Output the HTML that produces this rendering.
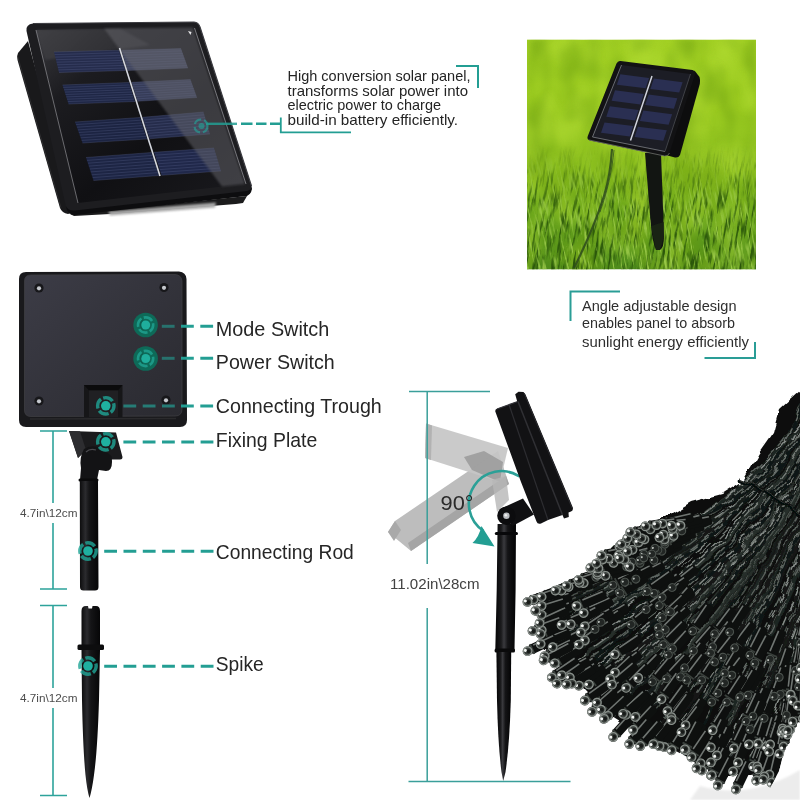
<!DOCTYPE html>
<html>
<head>
<meta charset="utf-8">
<title>Solar string light parts</title>
<style>
html,body{margin:0;padding:0;background:#fff;}
body{width:800px;height:800px;overflow:hidden;font-family:"Liberation Sans",sans-serif;}
svg{display:block;filter:blur(0.4px);}
text{font-family:"Liberation Sans",sans-serif;}
</style>
</head>
<body>
<svg width="800" height="800" viewBox="0 0 800 800">
<defs>
  <linearGradient id="glass" x1="0" y1="0" x2="1" y2="1">
    <stop offset="0" stop-color="#3a3a3e"/>
    <stop offset="0.25" stop-color="#1c1c20"/>
    <stop offset="0.6" stop-color="#101013"/>
    <stop offset="1" stop-color="#1a1a1e"/>
  </linearGradient>
  <filter id="blur1"><feGaussianBlur stdDeviation="0.6"/></filter>
  <filter id="blur2"><feGaussianBlur stdDeviation="1.2"/></filter>
</defs>
<rect width="800" height="800" fill="#ffffff"/>
<g id="panel">
  <!-- left body side -->
  <path d="M28,41 L18,53 Q16.5,56 17.5,60 L60,208 Q62,213 68,214 L74,212 Z" fill="#19191b"/>
  <path d="M17.5,56 L61,208" stroke="#3a3a3c" stroke-width="1" fill="none" opacity="0.6"/>
  <!-- underside / shadow -->
  <path d="M70,214 L247,196 L243,203 L236,204 L110,214 L74,216 Z" fill="#1b1b1c"/>
  <path d="M108,211.5 L216,202.5 L215,207.5 L110,215.5 Z" fill="#a9a9a9" filter="url(#blur2)"/>
  <!-- frame top face -->
  <path d="M33,23.5 L194,22 Q198.5,22.5 200,27 L251.5,186 Q253,191.5 247,193 L75,212.5 Q68,213 66,207 L26.5,31 Q25.5,24.5 33,23.5 Z" fill="#1d1d20"/>
  <path d="M33,23.5 L194,22 Q198.5,22.5 200,27 L251.5,186" stroke="#3b3b40" stroke-width="1.2" fill="none"/>
  <!-- frame front edge -->
  <path d="M66,206 Q68,211 75,210.5 L247,191 Q252,190 251.5,186 Q253,193 247,196 L75,215 Q67,215 66,206 Z" fill="#0d0d0f"/>
  <!-- glass -->
  <path d="M36,30 L193,27.5 L245,184 L78,203 Z" fill="url(#glass)"/>
  <!-- reflection top-right -->
  <path d="M36,30 L120,28.5 L150,45 L45,60 Z" fill="#48484e" opacity="0.45" filter="url(#blur2)"/>
  <!-- glass edge highlight -->
  <path d="M36,30 L78,203" stroke="#9a9aa0" stroke-width="0.9" fill="none" opacity="0.7"/>
  <path d="M194.5,28 L246,184" stroke="#b0b0b6" stroke-width="0.9" fill="none" opacity="0.7"/>
  <!-- cells -->
  <g id="cells">
    <path d="M54,52 L119,50.2 L125.5,70.5 L59,72.5 Z" fill="#252c4c"/>
    <path d="M121.5,50.2 L181,48.5 L188,68 L127.5,70.5 Z" fill="#41465e"/>
    <path d="M62.5,85 L129,82.5 L135,101.5 L68.5,104 Z" fill="#1f2746"/>
    <path d="M131.5,82.3 L190.5,79.5 L197,97.5 L137.5,101.3 Z" fill="#363c58"/>
    <path d="M75,122 L140,117.5 L147,139 L82.5,143 Z" fill="#1c2442"/>
    <path d="M142.5,117.3 L203.5,112 L210,134 L149.5,138.8 Z" fill="#252c4b"/>
    <path d="M86,157.5 L151.5,152.5 L159,175.5 L93.5,180.5 Z" fill="#1d2544"/>
    <path d="M154,152.3 L214,148 L221,171 L161.5,175.3 Z" fill="#20284a"/>
  </g>
  <g id="celllines" stroke="#6b76a3" stroke-width="0.6" opacity="0.4" fill="none"><path d="M54.0,52.0 L119.0,50.2"/><path d="M54.6,54.6 L119.8,52.7"/><path d="M55.2,57.1 L120.6,55.3"/><path d="M55.9,59.7 L121.4,57.8"/><path d="M56.5,62.2 L122.2,60.4"/><path d="M57.1,64.8 L123.1,62.9"/><path d="M57.8,67.4 L123.9,65.4"/><path d="M58.4,69.9 L124.7,68.0"/><path d="M59.0,72.5 L125.5,70.5"/><path d="M121.5,50.2 L181.0,48.5"/><path d="M122.2,52.7 L181.9,50.9"/><path d="M123.0,55.3 L182.8,53.4"/><path d="M123.8,57.8 L183.6,55.8"/><path d="M124.5,60.4 L184.5,58.2"/><path d="M125.2,62.9 L185.4,60.7"/><path d="M126.0,65.4 L186.2,63.1"/><path d="M126.8,68.0 L187.1,65.6"/><path d="M127.5,70.5 L188.0,68.0"/><path d="M62.5,85.0 L129.0,82.5"/><path d="M63.2,87.4 L129.8,84.9"/><path d="M64.0,89.8 L130.5,87.2"/><path d="M64.8,92.1 L131.2,89.6"/><path d="M65.5,94.5 L132.0,92.0"/><path d="M66.2,96.9 L132.8,94.4"/><path d="M67.0,99.2 L133.5,96.8"/><path d="M67.8,101.6 L134.2,99.1"/><path d="M68.5,104.0 L135.0,101.5"/><path d="M131.5,82.3 L190.5,79.5"/><path d="M132.2,84.7 L191.3,81.8"/><path d="M133.0,87.0 L192.1,84.0"/><path d="M133.8,89.4 L192.9,86.2"/><path d="M134.5,91.8 L193.8,88.5"/><path d="M135.2,94.2 L194.6,90.8"/><path d="M136.0,96.5 L195.4,93.0"/><path d="M136.8,98.9 L196.2,95.2"/><path d="M137.5,101.3 L197.0,97.5"/><path d="M75.0,122.0 L140.0,117.5"/><path d="M75.9,124.6 L140.9,120.2"/><path d="M76.9,127.2 L141.8,122.9"/><path d="M77.8,129.9 L142.6,125.6"/><path d="M78.8,132.5 L143.5,128.2"/><path d="M79.7,135.1 L144.4,130.9"/><path d="M80.6,137.8 L145.2,133.6"/><path d="M81.6,140.4 L146.1,136.3"/><path d="M82.5,143.0 L147.0,139.0"/><path d="M142.5,117.3 L203.5,112.0"/><path d="M143.4,120.0 L204.3,114.8"/><path d="M144.2,122.7 L205.1,117.5"/><path d="M145.1,125.4 L205.9,120.2"/><path d="M146.0,128.1 L206.8,123.0"/><path d="M146.9,130.7 L207.6,125.8"/><path d="M147.8,133.4 L208.4,128.5"/><path d="M148.6,136.1 L209.2,131.2"/><path d="M149.5,138.8 L210.0,134.0"/><path d="M86.0,157.5 L151.5,152.5"/><path d="M86.9,160.4 L152.4,155.4"/><path d="M87.9,163.2 L153.4,158.2"/><path d="M88.8,166.1 L154.3,161.1"/><path d="M89.8,169.0 L155.2,164.0"/><path d="M90.7,171.9 L156.2,166.9"/><path d="M91.6,174.8 L157.1,169.8"/><path d="M92.6,177.6 L158.1,172.6"/><path d="M93.5,180.5 L159.0,175.5"/><path d="M154.0,152.3 L214.0,148.0"/><path d="M154.9,155.2 L214.9,150.9"/><path d="M155.9,158.1 L215.8,153.8"/><path d="M156.8,160.9 L216.6,156.6"/><path d="M157.8,163.8 L217.5,159.5"/><path d="M158.7,166.7 L218.4,162.4"/><path d="M159.6,169.6 L219.2,165.2"/><path d="M160.6,172.4 L220.1,168.1"/><path d="M161.5,175.3 L221.0,171.0"/></g>
  <path d="M104,28.5 L193,27.5 L245,184 L222,186.5 Z" fill="#66666c" opacity="0.5" filter="url(#blur2)"/>
  <!-- center bus bar -->
  <path d="M119.5,48 L160,176" stroke="#c6c9d2" stroke-width="1.6" fill="none"/>
  <path d="M119.5,48 L160,176" stroke="#ffffff" stroke-width="0.6" fill="none" opacity="0.5"/>
  <!-- tiny corner glint -->
  <path d="M188,31 L191.5,32 L190.5,35 Z" fill="#e8e8ea"/>
</g>
<g id="grass">
  <defs>
    <clipPath id="gclip"><rect x="527" y="39.5" width="229" height="230"/></clipPath>
    <linearGradient id="gbase" x1="0" y1="0" x2="0" y2="1">
      <stop offset="0" stop-color="#a2d024"/>
      <stop offset="0.3" stop-color="#9aca20"/>
      <stop offset="0.58" stop-color="#8bbf20"/>
      <stop offset="0.78" stop-color="#68a41e"/>
      <stop offset="1" stop-color="#4d8a1c"/>
    </linearGradient>
    <filter id="gsoft" color-interpolation-filters="sRGB" x="0" y="0" width="1" height="1" filterUnits="objectBoundingBox">
      <feTurbulence type="fractalNoise" baseFrequency="0.035 0.02" numOctaves="2" seed="7" result="n"/>
      <feColorMatrix in="n" type="matrix" values="0 0 0 0 0.72  0 0 0 0 0.88  0 0 0 0 0.22  1.8 0 0 0 -0.7"/>
      <feGaussianBlur stdDeviation="2"/>
    </filter>
    <filter id="gdark" color-interpolation-filters="sRGB" x="0" y="0" width="1" height="1" filterUnits="objectBoundingBox">
      <feTurbulence type="fractalNoise" baseFrequency="0.04 0.025" numOctaves="2" seed="21" result="n"/>
      <feColorMatrix in="n" type="matrix" values="0 0 0 0 0.42  0 0 0 0 0.62  0 0 0 0 0.06  0 1.8 0 0 -0.7"/>
      <feGaussianBlur stdDeviation="2"/>
    </filter>
    <filter id="gblade" color-interpolation-filters="sRGB" x="0" y="0" width="1" height="1" filterUnits="objectBoundingBox">
      <feTurbulence type="fractalNoise" baseFrequency="0.5 0.05" numOctaves="2" seed="3" result="n"/>
      <feColorMatrix in="n" type="matrix" values="0 0 0 0 0.62  0 0 0 0 0.80  0 0 0 0 0.30  4.5 0 0 0 -2.3"/>
    </filter>
    <filter id="gblade2" color-interpolation-filters="sRGB" x="0" y="0" width="1" height="1" filterUnits="objectBoundingBox">
      <feTurbulence type="fractalNoise" baseFrequency="0.4 0.045" numOctaves="2" seed="11" result="n"/>
      <feColorMatrix in="n" type="matrix" values="0 0 0 0 0.16  0 0 0 0 0.33  0 0 0 0 0.04  0 4.2 0 0 -2.0"/>
    </filter>
    <linearGradient id="gfade" x1="0" y1="0" x2="0" y2="1">
      <stop offset="0" stop-color="#fff" stop-opacity="0"/>
      <stop offset="0.46" stop-color="#fff" stop-opacity="0"/>
      <stop offset="0.7" stop-color="#fff" stop-opacity="0.8"/>
      <stop offset="1" stop-color="#fff" stop-opacity="1"/>
    </linearGradient>
    <mask id="gmask"><rect x="527" y="39.5" width="229" height="230" fill="url(#gfade)"/></mask>
  </defs>
  <g clip-path="url(#gclip)">
    <rect x="527" y="39.5" width="229" height="230" fill="url(#gbase)"/>
    <rect x="527" y="39.5" width="229" height="230" filter="url(#gsoft)" opacity="0.8"/>
    <rect x="527" y="39.5" width="229" height="230" filter="url(#gdark)" opacity="0.75"/>
    <g mask="url(#gmask)">
      <g transform="rotate(8 640 200)"><rect x="500" y="20" width="300" height="290" filter="url(#gblade2)"/></g>
      <g transform="rotate(-10 640 200)"><rect x="500" y="20" width="300" height="290" filter="url(#gblade)" opacity="0.9"/></g>
    </g>
    <!-- wire -->
    <path d="M612,149 C611,165 609,180 604,196 C598,215 588,240 574,268" stroke="#2d4a1c" stroke-width="2.2" fill="none" opacity="0.85"/>
    <path d="M614,150 C612,170 608,190 600,212" stroke="#36561f" stroke-width="1" fill="none" opacity="0.8"/>
    <!-- stake -->
    <path d="M645,153 L661,153 L664,236 Q664,248 660,250 L656,250 Q652,240 651,226 Z" fill="#121512"/>
    <path d="M651,226 L656,250 L660,250 L664,236 L664,222 Z" fill="#1d2a14" opacity="0.7" filter="url(#blur1)"/>
    <!-- panel body side -->
    <path d="M694.5,70.5 L699.5,77 Q700.5,80 699.8,84 L680,155 Q678.5,158 675,157.5 L667.5,155.5 Z" fill="#0d0d0e"/>
    <!-- panel frame -->
    <path d="M620.5,61 L692.5,70 Q696,71 695,74.5 L669.5,153 Q668,156.5 664.5,156 L590,140.5 Q586.5,139.5 587.8,136 L616.5,63.5 Q618,60.5 620.5,61 Z" fill="#121214"/>
    <path d="M589,140 L664.5,156 Q668,156.5 669.5,153" stroke="#6d6f6a" stroke-width="1" fill="none" opacity="0.8"/>
    <!-- glass -->
    <path d="M621.5,65 L690.5,74 L665,151.5 L592.5,137 Z" fill="#1c1d25"/>
    <path d="M621.5,65 L592.5,137 L665,151.5" stroke="#90939a" stroke-width="0.9" fill="none" opacity="0.75"/>
    <path d="M690.5,74 L665,151.5" stroke="#4a4c52" stroke-width="0.8" fill="none"/>
    <!-- cells -->
    <g fill="#2a2f52">
      <path d="M620.3,74.2 L649.1,77.9 L645.6,88.3 L616.9,84.7 Z"/>
      <path d="M653.8,78.5 L682.6,82.2 L679.2,92.6 L650.4,88.9 Z"/>
      <path d="M615.0,90.3 L643.8,93.9 L640.4,104.4 L611.6,100.7 Z"/>
      <path d="M648.6,94.5 L677.3,98.2 L673.9,108.7 L645.1,105.0 Z"/>
      <path d="M609.8,106.3 L638.5,110.0 L635.1,120.4 L606.3,116.8 Z"/>
      <path d="M643.3,110.6 L672.1,114.3 L668.6,124.7 L639.9,121.1 Z"/>
      <path d="M604.5,122.4 L633.2,126.0 L629.8,136.5 L601.0,132.8 Z"/>
      <path d="M638.0,126.7 L666.8,130.3 L663.3,140.8 L634.6,137.1 Z"/>
    </g>
    <path d="M652,76 L630.5,140.5" stroke="#d0d3dc" stroke-width="1.5" fill="none"/>
  </g>
</g>
<g id="back">
  <defs>
    <linearGradient id="rodg" x1="0" y1="0" x2="1" y2="0">
      <stop offset="0" stop-color="#0c0c0d"/>
      <stop offset="0.3" stop-color="#2b2b2e"/>
      <stop offset="0.5" stop-color="#151517"/>
      <stop offset="1" stop-color="#060607"/>
    </linearGradient>
    <linearGradient id="plateg" x1="0" y1="0" x2="1" y2="1">
      <stop offset="0" stop-color="#3c3c46"/>
      <stop offset="0.5" stop-color="#33333b"/>
      <stop offset="1" stop-color="#2a2a30"/>
    </linearGradient>
  </defs>
  <!-- outer rim -->
  <path d="M26,272 L179,271.5 Q186,272 186.5,279 L187,420 Q187,427 180,427 L26,427 Q19,427 19,420 L19,279 Q19,272 26,272 Z" fill="#19191c"/>
  <!-- raised plate -->
  <path d="M31,275 L175,274.5 Q181.5,275 182,281 L182,409 Q182,416 175,416 L31,416.5 Q24.5,416.5 24.5,410 L24.5,281 Q24.5,275 31,275 Z" fill="url(#plateg)"/>
  <path d="M31,275 L175,274.5 Q181.5,275 182,281 L182,409 Q182,416 175,416 L31,416.5 Q24.5,416.5 24.5,410 L24.5,281 Q24.5,275 31,275 Z" fill="none" stroke="#3d3d41" stroke-width="0.8"/>
  <!-- lower lip highlight -->
  <path d="M30,419 L176,418.5" stroke="#2a2a2c" stroke-width="1.5"/>
  <!-- screws -->
  <g>
    <circle cx="39" cy="288" r="4.6" fill="#17171a"/><circle cx="39" cy="288.3" r="2.1" fill="#c4c7cc"/>
    <circle cx="164" cy="287.5" r="4.6" fill="#17171a"/><circle cx="164" cy="287.8" r="2.1" fill="#c4c7cc"/>
    <circle cx="39" cy="401" r="4.6" fill="#17171a"/><circle cx="39" cy="401.3" r="2.1" fill="#c4c7cc"/>
    <circle cx="166" cy="400" r="4.6" fill="#17171a"/><circle cx="166" cy="400.3" r="2.1" fill="#c4c7cc"/>
  </g>
  <!-- trough -->
  <path d="M84,385 L122.5,385 L122.5,417 L84,417 Z" fill="#161618"/>
  <path d="M84,385 L122.5,385 L118,390.5 L89,390.5 Z" fill="#0b0b0c"/>
  <path d="M89,390.5 L118,390.5 L118,417 L89,417 Z" fill="#202023"/>
  <!-- switches -->
  <circle cx="145.6" cy="325" r="12.3" fill="#0e6a58"/>
  <circle cx="145.6" cy="358.5" r="12.3" fill="#0e6a58"/>
  <!-- fixing plate -->
  <path d="M69,431 L116,432.5 L122.5,457 Q122.5,459.5 120,459.5 L108,459.5 L100,451 L86,450 L78,458 Z" fill="#1b1b1d"/>
  <path d="M69,431 L80,431.3 L86,450 L78,458 Z" fill="#2d2d30"/>
  <!-- joint -->
  <path d="M84,449 Q90,445 98,447 L105,452 Q113,454 112,462 Q112,471 106,471 L99,470 L97,480 L80,480 L81,468 Q79,458 84,449 Z" fill="#131315"/>
  <path d="M86,452 Q90,448 96,450" stroke="#4a4a4e" stroke-width="1.2" fill="none"/>
  <rect x="78.5" y="478.5" width="20" height="3" rx="1.5" fill="#0a0a0b"/>
  <!-- rod -->
  <path d="M79.8,481 L98,481 L98.5,587 Q98.5,590.5 95,590.5 L83.5,590.5 Q80,590.5 80,587 Z" fill="url(#rodg)"/>
  <!-- spike -->
  <path d="M81.5,611 Q81.5,606 86,606 L88,606 L88.5,608.5 L92,608.5 L92.5,606 L96,606 Q100,606 100,611 L100,645 L81.5,645 Z" fill="url(#rodg)"/>
  <rect x="77.5" y="644.5" width="26.5" height="5.5" rx="1.5" fill="#0d0d0e"/>
  <path d="M81.5,650 L100,650 L99,700 Q97.5,750 94,775 Q92,790 89.5,798 Q87,790 85.5,775 Q83,750 82,700 Z" fill="url(#rodg)"/>
</g>
<g id="tilt">
  <defs>
    <linearGradient id="poleg" x1="0" y1="0" x2="1" y2="0">
      <stop offset="0" stop-color="#050506"/>
      <stop offset="0.28" stop-color="#1a1a1c"/>
      <stop offset="0.42" stop-color="#3a3a3e"/>
      <stop offset="0.6" stop-color="#141416"/>
      <stop offset="1" stop-color="#030304"/>
    </linearGradient>
    <linearGradient id="gh1" x1="0" y1="0" x2="1" y2="0">
      <stop offset="0" stop-color="#c9c9c9"/>
      <stop offset="1" stop-color="#b4b4b4"/>
    </linearGradient>
  </defs>
  <!-- ghost 2 (lower, steeper) -->
  <g filter="url(#blur1)">
    <path d="M388,532 L395,521 L498,451 L509,484 L411,551 Z" fill="#bdbdbd"/>
    <path d="M388,532 L395,521 L401,530 L394,541 Z" fill="#a9a9a9"/>
    <path d="M411,551 L509,484 L506,476 L408,543 Z" fill="#a5a5a5"/>
    <!-- ghost 1 (upper) -->
    <path d="M426,423.5 L508,448 L500,482 L425,458 Z" fill="#c6c6c6" opacity="0.92"/>
    <path d="M426,423.5 L432,425.5 L431,460 L425,458 Z" fill="#b2b2b2"/>
    <path d="M464,457 L484,451 L503,462 L500,482 L472,470 Z" fill="#9c9c9c" opacity="0.9"/>
    <path d="M492,480 L506,476 L509,500 L497,512 Z" fill="#b6b6b6" opacity="0.8"/>
  </g>
  <!-- arc arrow -->
  <path d="M519.5,476.5 A31,31 0 0 0 483.5,531" stroke="#2ba097" stroke-width="2.6" fill="none"/>
  <path d="M481.5,526 L494.5,546.5 L472.5,543 Q479,537 481.5,526 Z" fill="#239e93"/>
  <!-- pole -->
  <path d="M497.6,524 L516,524 L515.6,590 L514.5,650 L495.3,650 L496.7,590 Z" fill="url(#poleg)"/>
  <rect x="494.8" y="532" width="23.2" height="3" rx="1.5" fill="#08080a"/>
  <rect x="494.6" y="648.5" width="20.4" height="4" rx="1.5" fill="#0a0a0b"/>
  <path d="M496.4,652 L511.2,652 L510.8,700 Q509.5,745 505.5,772 L503.2,781 L501.5,772 Q498,745 497,700 Z" fill="url(#poleg)"/>
  <!-- arm + joint -->
  <path d="M500,509 L523,498.5 L534,514.5 L512.5,526 Z" fill="#101012"/>
  <circle cx="506.4" cy="515.8" r="9.2" fill="#0c0c0e"/>
  <circle cx="506.4" cy="515.8" r="3.2" fill="#b9bcc0"/>
  <circle cx="505.8" cy="515.2" r="1.3" fill="#eeeeee"/>
  <!-- tilted panel -->
  <path d="M515.2,394.2 L518.5,391.8 L523.5,392 L525.5,394.5 L572.8,507.5 Q573.5,510.5 571,511.5 L568.5,512.5 L568.8,517 L564,518.5 L562.5,515 L548,520 L541,523.5 Q537.5,524.5 536.5,521.5 L521,482 L495.3,411.5 Q495,409.5 497,408.8 L517.2,401.5 Z" fill="#121214"/>
  <path d="M509,404.5 L548,520" stroke="#2d2d31" stroke-width="1.2" fill="none"/>
  <path d="M518,401.5 L562.5,515" stroke="#303034" stroke-width="1.5" fill="none"/>
  <path d="M497,409 L517,401.8" stroke="#35353a" stroke-width="1.2" fill="none"/>
  <path d="M524,393 L572,508" stroke="#2a2a2e" stroke-width="1" fill="none"/>
</g>
<g id="leds">
<defs>
<clipPath id="lclip"><polygon points="796,383 774,403 768,425 754,445 738,473 716,487 686,495 656,513 636,520 621,528 606,543 586,560 571,575 556,585 536,591 522,598 518,608 523,620 521,661 533,672 549,688 569,710 591,733 619,749 657,768 692,786 709,797 744,799 768,792 779,771 786,747 799,734 810,725 810,384"/></clipPath>
<filter id="wav" x="-5%" y="-5%" width="110%" height="110%"><feTurbulence type="fractalNoise" baseFrequency="0.045" numOctaves="2" seed="4" result="t"/><feDisplacementMap in="SourceGraphic" in2="t" scale="9" xChannelSelector="R" yChannelSelector="G"/></filter>
<g id="lb"><rect x="0" y="-5" width="29" height="10" rx="2.5" fill="#0e100f"/><rect x="5" y="-4" width="22" height="1.6" fill="#9aa19c" opacity=".7"/><rect x="1.5" y="-5.4" width="1.8" height="10.8" fill="#3a403c"/></g>
<g id="lc"><ellipse cx="-2.6" cy="0" rx="5" ry="4.9" fill="#3a3f3c"/><ellipse cx="-2.6" cy="0" rx="4.3" ry="4.2" fill="none" stroke="#8a918c" stroke-width="1.2"/><circle cx="-1.8" cy=".6" r="1.9" fill="#171a18"/><circle cx="-4.4" cy="-1.6" r="1.5" fill="#f4f6f4"/></g>
<g id="lc2"><ellipse cx="-2.4" cy="0" rx="4.6" ry="4.5" fill="#222624"/><ellipse cx="-2.4" cy="0" rx="3.9" ry="3.8" fill="none" stroke="#505752" stroke-width="1"/><circle cx="-4" cy="-1.4" r="1.05" fill="#b9beb9"/></g>
</defs>
<path d="M700,786 Q750,800 800,770 L800,800 L690,800 Z" fill="#ececec" filter="url(#blur2)"/>
<g clip-path="url(#lclip)">
<g filter="url(#wav)">
<polygon points="801,390 779,410 773,432 759,452 743,480 721,494 691,502 661,520 641,527 626,535 611,550 591,567 576,582 539,595 544,607 540,646 551,656 567,672 585,692 606,714 632,730 668,747 701,764 717,775 750,775 773,768 784,747 791,723 800,722" fill="#0d110f"/>
<path d="M830,404 C791,478 736,536 674,586" stroke="#1f2522" stroke-width="2.8" fill="none"/>
<path d="M830,404 C791,478 736,536 674,586" transform="translate(-.8,-.9)" stroke="#8d948f" stroke-width="1.4" stroke-dasharray="14 4" fill="none" opacity=".8"/>
<path d="M843,417 C812,492 775,563 731,630" stroke="#111513" stroke-width="2.9" fill="none"/>
<path d="M843,417 C812,492 775,563 731,630" transform="translate(-.8,-.9)" stroke="#565e59" stroke-width="1.4" stroke-dasharray="15 6" fill="none" opacity=".8"/>
<path d="M867,425 C845,488 825,552 809,617" stroke="#181d1a" stroke-width="3.6" fill="none"/>
<path d="M867,425 C845,488 825,552 809,617" transform="translate(-.8,-.9)" stroke="#8d948f" stroke-width="1.4" stroke-dasharray="8 4" fill="none" opacity=".8"/>
<path d="M868,427 C840,474 827,524 819,576" stroke="#181d1a" stroke-width="3.2" fill="none"/>
<path d="M868,427 C840,474 827,524 819,576" transform="translate(-.8,-.9)" stroke="#565e59" stroke-width="1.4" stroke-dasharray="9 8" fill="none" opacity=".8"/>
<path d="M822,401 C779,465 726,514 664,550" stroke="#1f2522" stroke-width="3.9" fill="none"/>
<path d="M822,401 C779,465 726,514 664,550" transform="translate(-.8,-.9)" stroke="#8d948f" stroke-width="1.4" stroke-dasharray="10 9" fill="none" opacity=".8"/>
<path d="M857,424 C832,503 804,581 771,657" stroke="#0a0d0b" stroke-width="3.0" fill="none"/>
<path d="M857,424 C832,503 804,581 771,657" transform="translate(-.8,-.9)" stroke="#a4aaa6" stroke-width="1.4" stroke-dasharray="15 4" fill="none" opacity=".8"/>
<path d="M841,415 C808,493 767,565 716,632" stroke="#262d29" stroke-width="3.9" fill="none"/>
<path d="M841,415 C808,493 767,565 716,632" transform="translate(-.8,-.9)" stroke="#7b837e" stroke-width="1.4" stroke-dasharray="10 7" fill="none" opacity=".8"/>
<path d="M863,428 C846,494 826,560 808,627" stroke="#111513" stroke-width="3.9" fill="none"/>
<path d="M863,428 C846,494 826,560 808,627" transform="translate(-.8,-.9)" stroke="#6b736e" stroke-width="1.4" stroke-dasharray="13 6" fill="none" opacity=".8"/>
<path d="M862,422 C836,483 822,546 810,610" stroke="#181d1a" stroke-width="4.0" fill="none"/>
<path d="M862,422 C836,483 822,546 810,610" transform="translate(-.8,-.9)" stroke="#a4aaa6" stroke-width="1.4" stroke-dasharray="15 8" fill="none" opacity=".8"/>
<path d="M825,397 C780,465 723,518 656,559" stroke="#111513" stroke-width="3.2" fill="none"/>
<path d="M825,397 C780,465 723,518 656,559" transform="translate(-.8,-.9)" stroke="#565e59" stroke-width="1.4" stroke-dasharray="11 5" fill="none" opacity=".8"/>
<path d="M828,400 C779,475 720,538 649,590" stroke="#181d1a" stroke-width="2.9" fill="none"/>
<path d="M828,400 C779,475 720,538 649,590" transform="translate(-.8,-.9)" stroke="#8d948f" stroke-width="1.4" stroke-dasharray="10 8" fill="none" opacity=".8"/>
<path d="M852,422 C830,505 797,584 756,661" stroke="#151917" stroke-width="3.6" fill="none"/>
<path d="M852,422 C830,505 797,584 756,661" transform="translate(-.8,-.9)" stroke="#a4aaa6" stroke-width="1.4" stroke-dasharray="11 7" fill="none" opacity=".8"/>
<path d="M841,411 C812,497 768,573 714,645" stroke="#0a0d0b" stroke-width="3.5" fill="none"/>
<path d="M841,411 C812,497 768,573 714,645" transform="translate(-.8,-.9)" stroke="#8d948f" stroke-width="1.4" stroke-dasharray="16 8" fill="none" opacity=".8"/>
<path d="M833,408 C785,484 730,554 664,616" stroke="#111513" stroke-width="3.6" fill="none"/>
<path d="M833,408 C785,484 730,554 664,616" transform="translate(-.8,-.9)" stroke="#a4aaa6" stroke-width="1.4" stroke-dasharray="9 7" fill="none" opacity=".8"/>
<path d="M844,411 C808,495 765,575 712,651" stroke="#1f2522" stroke-width="4.0" fill="none"/>
<path d="M844,411 C808,495 765,575 712,651" transform="translate(-.8,-.9)" stroke="#565e59" stroke-width="1.4" stroke-dasharray="15 4" fill="none" opacity=".8"/>
<path d="M818,395 C778,462 725,513 660,549" stroke="#0a0d0b" stroke-width="2.8" fill="none"/>
<path d="M818,395 C778,462 725,513 660,549" transform="translate(-.8,-.9)" stroke="#7b837e" stroke-width="1.4" stroke-dasharray="10 5" fill="none" opacity=".8"/>
<path d="M855,422 C836,508 809,591 780,675" stroke="#151917" stroke-width="2.9" fill="none"/>
<path d="M855,422 C836,508 809,591 780,675" transform="translate(-.8,-.9)" stroke="#a4aaa6" stroke-width="1.4" stroke-dasharray="16 5" fill="none" opacity=".8"/>
<path d="M844,414 C804,499 756,578 695,649" stroke="#111513" stroke-width="3.1" fill="none"/>
<path d="M844,414 C804,499 756,578 695,649" transform="translate(-.8,-.9)" stroke="#7b837e" stroke-width="1.4" stroke-dasharray="8 8" fill="none" opacity=".8"/>
<path d="M832,409 C781,486 720,553 648,608" stroke="#111513" stroke-width="4.0" fill="none"/>
<path d="M832,409 C781,486 720,553 648,608" transform="translate(-.8,-.9)" stroke="#6b736e" stroke-width="1.4" stroke-dasharray="13 9" fill="none" opacity=".8"/>
<path d="M834,409 C790,492 735,565 667,628" stroke="#151917" stroke-width="3.3" fill="none"/>
<path d="M834,409 C790,492 735,565 667,628" transform="translate(-.8,-.9)" stroke="#565e59" stroke-width="1.4" stroke-dasharray="8 4" fill="none" opacity=".8"/>
<path d="M828,406 C781,485 715,538 638,578" stroke="#262d29" stroke-width="3.9" fill="none"/>
<path d="M828,406 C781,485 715,538 638,578" transform="translate(-.8,-.9)" stroke="#a4aaa6" stroke-width="1.4" stroke-dasharray="13 8" fill="none" opacity=".8"/>
<path d="M852,419 C819,506 778,590 733,673" stroke="#151917" stroke-width="3.1" fill="none"/>
<path d="M852,419 C819,506 778,590 733,673" transform="translate(-.8,-.9)" stroke="#7b837e" stroke-width="1.4" stroke-dasharray="14 7" fill="none" opacity=".8"/>
<path d="M840,413 C792,497 738,575 673,646" stroke="#151917" stroke-width="3.7" fill="none"/>
<path d="M840,413 C792,497 738,575 673,646" transform="translate(-.8,-.9)" stroke="#8d948f" stroke-width="1.4" stroke-dasharray="9 6" fill="none" opacity=".8"/>
<path d="M849,420 C818,509 774,590 726,671" stroke="#262d29" stroke-width="3.3" fill="none"/>
<path d="M849,420 C818,509 774,590 726,671" transform="translate(-.8,-.9)" stroke="#a4aaa6" stroke-width="1.4" stroke-dasharray="14 8" fill="none" opacity=".8"/>
<path d="M836,409 C790,494 736,572 674,647" stroke="#111513" stroke-width="3.1" fill="none"/>
<path d="M836,409 C790,494 736,572 674,647" transform="translate(-.8,-.9)" stroke="#7b837e" stroke-width="1.4" stroke-dasharray="10 7" fill="none" opacity=".8"/>
<path d="M866,429 C840,493 822,559 809,628" stroke="#1f2522" stroke-width="3.1" fill="none"/>
<path d="M866,429 C840,493 822,559 809,628" transform="translate(-.8,-.9)" stroke="#8d948f" stroke-width="1.4" stroke-dasharray="13 8" fill="none" opacity=".8"/>
<path d="M872,429 C846,488 825,547 815,611" stroke="#151917" stroke-width="3.3" fill="none"/>
<path d="M872,429 C846,488 825,547 815,611" transform="translate(-.8,-.9)" stroke="#8d948f" stroke-width="1.4" stroke-dasharray="11 7" fill="none" opacity=".8"/>
<path d="M839,414 C790,497 734,574 665,643" stroke="#151917" stroke-width="3.4" fill="none"/>
<path d="M839,414 C790,497 734,574 665,643" transform="translate(-.8,-.9)" stroke="#565e59" stroke-width="1.4" stroke-dasharray="12 8" fill="none" opacity=".8"/>
<path d="M823,400 C771,482 702,542 622,592" stroke="#0a0d0b" stroke-width="2.9" fill="none"/>
<path d="M823,400 C771,482 702,542 622,592" transform="translate(-.8,-.9)" stroke="#8d948f" stroke-width="1.4" stroke-dasharray="13 7" fill="none" opacity=".8"/>
<path d="M822,404 C773,484 707,540 627,581" stroke="#262d29" stroke-width="3.1" fill="none"/>
<path d="M822,404 C773,484 707,540 627,581" transform="translate(-.8,-.9)" stroke="#8d948f" stroke-width="1.4" stroke-dasharray="8 6" fill="none" opacity=".8"/>
<path d="M838,412 C796,503 737,580 670,653" stroke="#262d29" stroke-width="3.2" fill="none"/>
<path d="M838,412 C796,503 737,580 670,653" transform="translate(-.8,-.9)" stroke="#7b837e" stroke-width="1.4" stroke-dasharray="14 8" fill="none" opacity=".8"/>
<path d="M856,418 C833,511 807,602 775,694" stroke="#151917" stroke-width="3.4" fill="none"/>
<path d="M856,418 C833,511 807,602 775,694" transform="translate(-.8,-.9)" stroke="#7b837e" stroke-width="1.4" stroke-dasharray="9 5" fill="none" opacity=".8"/>
<path d="M863,424 C839,504 814,585 796,668" stroke="#111513" stroke-width="3.4" fill="none"/>
<path d="M863,424 C839,504 814,585 796,668" transform="translate(-.8,-.9)" stroke="#7b837e" stroke-width="1.4" stroke-dasharray="14 4" fill="none" opacity=".8"/>
<path d="M816,392 C781,457 732,503 672,537" stroke="#1f2522" stroke-width="3.4" fill="none"/>
<path d="M816,392 C781,457 732,503 672,537" transform="translate(-.8,-.9)" stroke="#8d948f" stroke-width="1.4" stroke-dasharray="14 9" fill="none" opacity=".8"/>
<path d="M831,409 C777,491 711,562 633,623" stroke="#111513" stroke-width="3.4" fill="none"/>
<path d="M831,409 C777,491 711,562 633,623" transform="translate(-.8,-.9)" stroke="#7b837e" stroke-width="1.4" stroke-dasharray="16 5" fill="none" opacity=".8"/>
<path d="M845,418 C804,508 757,594 703,678" stroke="#1f2522" stroke-width="3.4" fill="none"/>
<path d="M845,418 C804,508 757,594 703,678" transform="translate(-.8,-.9)" stroke="#6b736e" stroke-width="1.4" stroke-dasharray="8 6" fill="none" opacity=".8"/>
<path d="M857,428 C834,517 813,606 791,696" stroke="#151917" stroke-width="3.0" fill="none"/>
<path d="M857,428 C834,517 813,606 791,696" transform="translate(-.8,-.9)" stroke="#565e59" stroke-width="1.4" stroke-dasharray="12 6" fill="none" opacity=".8"/>
<path d="M820,398 C778,479 712,527 634,561" stroke="#0a0d0b" stroke-width="4.0" fill="none"/>
<path d="M820,398 C778,479 712,527 634,561" transform="translate(-.8,-.9)" stroke="#7b837e" stroke-width="1.4" stroke-dasharray="10 5" fill="none" opacity=".8"/>
<path d="M846,419 C820,517 770,604 719,691" stroke="#151917" stroke-width="3.8" fill="none"/>
<path d="M846,419 C820,517 770,604 719,691" transform="translate(-.8,-.9)" stroke="#565e59" stroke-width="1.4" stroke-dasharray="12 9" fill="none" opacity=".8"/>
<path d="M841,415 C801,510 748,595 682,675" stroke="#181d1a" stroke-width="3.2" fill="none"/>
<path d="M841,415 C801,510 748,595 682,675" transform="translate(-.8,-.9)" stroke="#7b837e" stroke-width="1.4" stroke-dasharray="10 5" fill="none" opacity=".8"/>
<path d="M840,410 C804,507 752,594 688,678" stroke="#151917" stroke-width="3.6" fill="none"/>
<path d="M840,410 C804,507 752,594 688,678" transform="translate(-.8,-.9)" stroke="#6b736e" stroke-width="1.4" stroke-dasharray="14 7" fill="none" opacity=".8"/>
<path d="M863,429 C842,519 819,607 794,697" stroke="#151917" stroke-width="3.9" fill="none"/>
<path d="M863,429 C842,519 819,607 794,697" transform="translate(-.8,-.9)" stroke="#8d948f" stroke-width="1.4" stroke-dasharray="12 6" fill="none" opacity=".8"/>
<path d="M854,419 C832,521 798,618 754,714" stroke="#111513" stroke-width="3.3" fill="none"/>
<path d="M854,419 C832,521 798,618 754,714" transform="translate(-.8,-.9)" stroke="#6b736e" stroke-width="1.4" stroke-dasharray="10 6" fill="none" opacity=".8"/>
<path d="M864,431 C838,500 819,572 807,646" stroke="#111513" stroke-width="3.8" fill="none"/>
<path d="M864,431 C838,500 819,572 807,646" transform="translate(-.8,-.9)" stroke="#8d948f" stroke-width="1.4" stroke-dasharray="12 6" fill="none" opacity=".8"/>
<path d="M853,421 C830,521 804,620 765,716" stroke="#151917" stroke-width="3.4" fill="none"/>
<path d="M853,421 C830,521 804,620 765,716" transform="translate(-.8,-.9)" stroke="#a4aaa6" stroke-width="1.4" stroke-dasharray="12 6" fill="none" opacity=".8"/>
<path d="M819,391 C784,470 727,520 654,553" stroke="#262d29" stroke-width="3.6" fill="none"/>
<path d="M819,391 C784,470 727,520 654,553" transform="translate(-.8,-.9)" stroke="#565e59" stroke-width="1.4" stroke-dasharray="10 6" fill="none" opacity=".8"/>
<path d="M818,400 C782,481 721,527 646,557" stroke="#0a0d0b" stroke-width="2.9" fill="none"/>
<path d="M818,400 C782,481 721,527 646,557" transform="translate(-.8,-.9)" stroke="#a4aaa6" stroke-width="1.4" stroke-dasharray="11 5" fill="none" opacity=".8"/>
<path d="M810,397 C788,467 742,506 684,530" stroke="#0a0d0b" stroke-width="3.4" fill="none"/>
<path d="M810,397 C788,467 742,506 684,530" transform="translate(-.8,-.9)" stroke="#a4aaa6" stroke-width="1.4" stroke-dasharray="12 7" fill="none" opacity=".8"/>
<path d="M847,412 C814,513 768,608 713,700" stroke="#262d29" stroke-width="3.7" fill="none"/>
<path d="M847,412 C814,513 768,608 713,700" transform="translate(-.8,-.9)" stroke="#a4aaa6" stroke-width="1.4" stroke-dasharray="9 4" fill="none" opacity=".8"/>
<path d="M817,392 C788,469 735,513 667,541" stroke="#262d29" stroke-width="3.9" fill="none"/>
<path d="M817,392 C788,469 735,513 667,541" transform="translate(-.8,-.9)" stroke="#a4aaa6" stroke-width="1.4" stroke-dasharray="9 5" fill="none" opacity=".8"/>
<path d="M821,393 C778,478 708,525 628,561" stroke="#0a0d0b" stroke-width="2.8" fill="none"/>
<path d="M821,393 C778,478 708,525 628,561" transform="translate(-.8,-.9)" stroke="#a4aaa6" stroke-width="1.4" stroke-dasharray="15 6" fill="none" opacity=".8"/>
<path d="M821,400 C775,479 711,534 629,566" stroke="#1f2522" stroke-width="3.2" fill="none"/>
<path d="M821,400 C775,479 711,534 629,566" transform="translate(-.8,-.9)" stroke="#7b837e" stroke-width="1.4" stroke-dasharray="13 6" fill="none" opacity=".8"/>
<path d="M852,419 C823,522 794,626 751,727" stroke="#151917" stroke-width="3.1" fill="none"/>
<path d="M852,419 C823,522 794,626 751,727" transform="translate(-.8,-.9)" stroke="#6b736e" stroke-width="1.4" stroke-dasharray="10 7" fill="none" opacity=".8"/>
<path d="M830,401 C774,498 690,567 597,628" stroke="#111513" stroke-width="2.8" fill="none"/>
<path d="M830,401 C774,498 690,567 597,628" transform="translate(-.8,-.9)" stroke="#a4aaa6" stroke-width="1.4" stroke-dasharray="11 6" fill="none" opacity=".8"/>
<path d="M842,407 C791,508 720,594 640,676" stroke="#262d29" stroke-width="3.0" fill="none"/>
<path d="M842,407 C791,508 720,594 640,676" transform="translate(-.8,-.9)" stroke="#7b837e" stroke-width="1.4" stroke-dasharray="10 8" fill="none" opacity=".8"/>
<path d="M809,398 C788,473 739,513 676,535" stroke="#262d29" stroke-width="3.3" fill="none"/>
<path d="M809,398 C788,473 739,513 676,535" transform="translate(-.8,-.9)" stroke="#8d948f" stroke-width="1.4" stroke-dasharray="15 7" fill="none" opacity=".8"/>
<path d="M828,403 C769,501 686,570 587,625" stroke="#1f2522" stroke-width="3.3" fill="none"/>
<path d="M828,403 C769,501 686,570 587,625" transform="translate(-.8,-.9)" stroke="#565e59" stroke-width="1.4" stroke-dasharray="12 6" fill="none" opacity=".8"/>
<path d="M820,396 C779,482 715,536 632,566" stroke="#0a0d0b" stroke-width="3.2" fill="none"/>
<path d="M820,396 C779,482 715,536 632,566" transform="translate(-.8,-.9)" stroke="#a4aaa6" stroke-width="1.4" stroke-dasharray="13 5" fill="none" opacity=".8"/>
<path d="M820,400 C759,483 678,539 586,582" stroke="#0a0d0b" stroke-width="3.7" fill="none"/>
<path d="M820,400 C759,483 678,539 586,582" transform="translate(-.8,-.9)" stroke="#565e59" stroke-width="1.4" stroke-dasharray="13 8" fill="none" opacity=".8"/>
<path d="M867,430 C824,503 805,581 801,665" stroke="#262d29" stroke-width="3.2" fill="none"/>
<path d="M867,430 C824,503 805,581 801,665" transform="translate(-.8,-.9)" stroke="#6b736e" stroke-width="1.4" stroke-dasharray="15 5" fill="none" opacity=".8"/>
<path d="M871,432 C839,510 813,590 800,676" stroke="#262d29" stroke-width="3.2" fill="none"/>
<path d="M871,432 C839,510 813,590 800,676" transform="translate(-.8,-.9)" stroke="#6b736e" stroke-width="1.4" stroke-dasharray="16 8" fill="none" opacity=".8"/>
<path d="M827,405 C766,503 684,577 587,639" stroke="#111513" stroke-width="3.7" fill="none"/>
<path d="M827,405 C766,503 684,577 587,639" transform="translate(-.8,-.9)" stroke="#a4aaa6" stroke-width="1.4" stroke-dasharray="9 6" fill="none" opacity=".8"/>
<path d="M851,420 C819,529 775,631 714,728" stroke="#1f2522" stroke-width="3.4" fill="none"/>
<path d="M851,420 C819,529 775,631 714,728" transform="translate(-.8,-.9)" stroke="#565e59" stroke-width="1.4" stroke-dasharray="11 6" fill="none" opacity=".8"/>
<path d="M839,411 C786,516 711,600 617,671" stroke="#1f2522" stroke-width="3.6" fill="none"/>
<path d="M839,411 C786,516 711,600 617,671" transform="translate(-.8,-.9)" stroke="#8d948f" stroke-width="1.4" stroke-dasharray="9 6" fill="none" opacity=".8"/>
<path d="M862,424 C827,510 802,598 791,692" stroke="#1f2522" stroke-width="3.7" fill="none"/>
<path d="M862,424 C827,510 802,598 791,692" transform="translate(-.8,-.9)" stroke="#a4aaa6" stroke-width="1.4" stroke-dasharray="13 5" fill="none" opacity=".8"/>
<path d="M852,416 C829,531 788,639 735,746" stroke="#0a0d0b" stroke-width="3.7" fill="none"/>
<path d="M852,416 C829,531 788,639 735,746" transform="translate(-.8,-.9)" stroke="#565e59" stroke-width="1.4" stroke-dasharray="14 6" fill="none" opacity=".8"/>
<path d="M827,406 C763,504 675,570 573,623" stroke="#181d1a" stroke-width="3.6" fill="none"/>
<path d="M827,406 C763,504 675,570 573,623" transform="translate(-.8,-.9)" stroke="#7b837e" stroke-width="1.4" stroke-dasharray="10 9" fill="none" opacity=".8"/>
<path d="M860,423 C835,525 803,625 782,730" stroke="#1f2522" stroke-width="2.9" fill="none"/>
<path d="M860,423 C835,525 803,625 782,730" transform="translate(-.8,-.9)" stroke="#6b736e" stroke-width="1.4" stroke-dasharray="15 5" fill="none" opacity=".8"/>
<path d="M846,417 C809,528 745,622 673,715" stroke="#1f2522" stroke-width="3.4" fill="none"/>
<path d="M846,417 C809,528 745,622 673,715" transform="translate(-.8,-.9)" stroke="#7b837e" stroke-width="1.4" stroke-dasharray="10 8" fill="none" opacity=".8"/>
<path d="M847,420 C813,531 751,626 687,723" stroke="#181d1a" stroke-width="2.9" fill="none"/>
<path d="M847,420 C813,531 751,626 687,723" transform="translate(-.8,-.9)" stroke="#6b736e" stroke-width="1.4" stroke-dasharray="11 8" fill="none" opacity=".8"/>
<path d="M833,407 C779,512 699,596 612,677" stroke="#151917" stroke-width="3.2" fill="none"/>
<path d="M833,407 C779,512 699,596 612,677" transform="translate(-.8,-.9)" stroke="#8d948f" stroke-width="1.4" stroke-dasharray="13 6" fill="none" opacity=".8"/>
<path d="M838,406 C788,518 709,605 614,683" stroke="#181d1a" stroke-width="3.9" fill="none"/>
<path d="M838,406 C788,518 709,605 614,683" transform="translate(-.8,-.9)" stroke="#a4aaa6" stroke-width="1.4" stroke-dasharray="8 8" fill="none" opacity=".8"/>
<path d="M864,428 C824,513 805,604 793,698" stroke="#111513" stroke-width="3.7" fill="none"/>
<path d="M864,428 C824,513 805,604 793,698" transform="translate(-.8,-.9)" stroke="#6b736e" stroke-width="1.4" stroke-dasharray="13 6" fill="none" opacity=".8"/>
<path d="M861,421 C829,529 806,639 770,749" stroke="#1f2522" stroke-width="2.9" fill="none"/>
<path d="M861,421 C829,529 806,639 770,749" transform="translate(-.8,-.9)" stroke="#6b736e" stroke-width="1.4" stroke-dasharray="15 8" fill="none" opacity=".8"/>
<path d="M809,392 C790,465 750,512 683,525" stroke="#1f2522" stroke-width="4.0" fill="none"/>
<path d="M809,392 C790,465 750,512 683,525" transform="translate(-.8,-.9)" stroke="#565e59" stroke-width="1.4" stroke-dasharray="8 5" fill="none" opacity=".8"/>
<path d="M805,386 C790,466 743,508 674,525" stroke="#151917" stroke-width="3.1" fill="none"/>
<path d="M805,386 C790,466 743,508 674,525" transform="translate(-.8,-.9)" stroke="#565e59" stroke-width="1.4" stroke-dasharray="11 9" fill="none" opacity=".8"/>
<path d="M851,417 C825,533 766,636 712,745" stroke="#111513" stroke-width="3.5" fill="none"/>
<path d="M851,417 C825,533 766,636 712,745" transform="translate(-.8,-.9)" stroke="#a4aaa6" stroke-width="1.4" stroke-dasharray="10 7" fill="none" opacity=".8"/>
<path d="M851,420 C808,530 755,634 683,730" stroke="#111513" stroke-width="3.4" fill="none"/>
<path d="M851,420 C808,530 755,634 683,730" transform="translate(-.8,-.9)" stroke="#7b837e" stroke-width="1.4" stroke-dasharray="16 4" fill="none" opacity=".8"/>
<path d="M855,420 C817,534 770,643 718,753" stroke="#151917" stroke-width="3.4" fill="none"/>
<path d="M855,420 C817,534 770,643 718,753" transform="translate(-.8,-.9)" stroke="#7b837e" stroke-width="1.4" stroke-dasharray="9 8" fill="none" opacity=".8"/>
<path d="M813,391 C783,480 718,526 635,549" stroke="#262d29" stroke-width="4.0" fill="none"/>
<path d="M813,391 C783,480 718,526 635,549" transform="translate(-.8,-.9)" stroke="#a4aaa6" stroke-width="1.4" stroke-dasharray="10 5" fill="none" opacity=".8"/>
<path d="M824,397 C760,487 676,549 571,586" stroke="#0a0d0b" stroke-width="3.2" fill="none"/>
<path d="M824,397 C760,487 676,549 571,586" transform="translate(-.8,-.9)" stroke="#8d948f" stroke-width="1.4" stroke-dasharray="14 7" fill="none" opacity=".8"/>
<path d="M813,395 C770,479 703,532 616,562" stroke="#111513" stroke-width="3.8" fill="none"/>
<path d="M813,395 C770,479 703,532 616,562" transform="translate(-.8,-.9)" stroke="#8d948f" stroke-width="1.4" stroke-dasharray="11 7" fill="none" opacity=".8"/>
<path d="M858,425 C834,541 784,648 739,760" stroke="#151917" stroke-width="3.2" fill="none"/>
<path d="M858,425 C834,541 784,648 739,760" transform="translate(-.8,-.9)" stroke="#565e59" stroke-width="1.4" stroke-dasharray="10 8" fill="none" opacity=".8"/>
<path d="M867,427 C834,525 809,625 788,728" stroke="#151917" stroke-width="3.4" fill="none"/>
<path d="M867,427 C834,525 809,625 788,728" transform="translate(-.8,-.9)" stroke="#8d948f" stroke-width="1.4" stroke-dasharray="11 8" fill="none" opacity=".8"/>
<path d="M839,412 C792,525 721,622 637,715" stroke="#151917" stroke-width="3.7" fill="none"/>
<path d="M839,412 C792,525 721,622 637,715" transform="translate(-.8,-.9)" stroke="#6b736e" stroke-width="1.4" stroke-dasharray="16 8" fill="none" opacity=".8"/>
<path d="M844,411 C790,524 722,626 628,713" stroke="#262d29" stroke-width="3.2" fill="none"/>
<path d="M844,411 C790,524 722,626 628,713" transform="translate(-.8,-.9)" stroke="#565e59" stroke-width="1.4" stroke-dasharray="12 7" fill="none" opacity=".8"/>
<path d="M859,418 C831,535 796,649 754,764" stroke="#0a0d0b" stroke-width="3.0" fill="none"/>
<path d="M859,418 C831,535 796,649 754,764" transform="translate(-.8,-.9)" stroke="#565e59" stroke-width="1.4" stroke-dasharray="15 4" fill="none" opacity=".8"/>
<path d="M859,418 C831,533 801,649 758,764" stroke="#181d1a" stroke-width="3.3" fill="none"/>
<path d="M859,418 C831,533 801,649 758,764" transform="translate(-.8,-.9)" stroke="#565e59" stroke-width="1.4" stroke-dasharray="10 7" fill="none" opacity=".8"/>
<path d="M843,414 C783,522 720,627 625,712" stroke="#181d1a" stroke-width="3.7" fill="none"/>
<path d="M843,414 C783,522 720,627 625,712" transform="translate(-.8,-.9)" stroke="#a4aaa6" stroke-width="1.4" stroke-dasharray="9 8" fill="none" opacity=".8"/>
<path d="M815,392 C777,479 714,535 622,558" stroke="#111513" stroke-width="3.8" fill="none"/>
<path d="M815,392 C777,479 714,535 622,558" transform="translate(-.8,-.9)" stroke="#8d948f" stroke-width="1.4" stroke-dasharray="13 6" fill="none" opacity=".8"/>
<path d="M807,396 C778,478 723,525 641,542" stroke="#262d29" stroke-width="3.0" fill="none"/>
<path d="M807,396 C778,478 723,525 641,542" transform="translate(-.8,-.9)" stroke="#a4aaa6" stroke-width="1.4" stroke-dasharray="14 5" fill="none" opacity=".8"/>
<path d="M825,404 C756,508 669,590 555,646" stroke="#1f2522" stroke-width="3.5" fill="none"/>
<path d="M825,404 C756,508 669,590 555,646" transform="translate(-.8,-.9)" stroke="#a4aaa6" stroke-width="1.4" stroke-dasharray="10 5" fill="none" opacity=".8"/>
<path d="M816,400 C763,494 683,551 582,582" stroke="#0a0d0b" stroke-width="3.4" fill="none"/>
<path d="M816,400 C763,494 683,551 582,582" transform="translate(-.8,-.9)" stroke="#8d948f" stroke-width="1.4" stroke-dasharray="10 5" fill="none" opacity=".8"/>
<path d="M871,429 C830,515 807,606 798,703" stroke="#181d1a" stroke-width="3.6" fill="none"/>
<path d="M871,429 C830,515 807,606 798,703" transform="translate(-.8,-.9)" stroke="#565e59" stroke-width="1.4" stroke-dasharray="11 7" fill="none" opacity=".8"/>
<path d="M820,392 C774,488 700,546 600,574" stroke="#111513" stroke-width="2.9" fill="none"/>
<path d="M820,392 C774,488 700,546 600,574" transform="translate(-.8,-.9)" stroke="#6b736e" stroke-width="1.4" stroke-dasharray="15 5" fill="none" opacity=".8"/>
<path d="M812,387 C785,472 732,524 647,539" stroke="#181d1a" stroke-width="3.7" fill="none"/>
<path d="M812,387 C785,472 732,524 647,539" transform="translate(-.8,-.9)" stroke="#6b736e" stroke-width="1.4" stroke-dasharray="11 9" fill="none" opacity=".8"/>
<path d="M831,412 C776,524 693,610 591,683" stroke="#151917" stroke-width="3.8" fill="none"/>
<path d="M831,412 C776,524 693,610 591,683" transform="translate(-.8,-.9)" stroke="#8d948f" stroke-width="1.4" stroke-dasharray="11 6" fill="none" opacity=".8"/>
<path d="M856,415 C815,531 767,645 712,760" stroke="#262d29" stroke-width="3.1" fill="none"/>
<path d="M856,415 C815,531 767,645 712,760" transform="translate(-.8,-.9)" stroke="#565e59" stroke-width="1.4" stroke-dasharray="14 6" fill="none" opacity=".8"/>
<path d="M820,400 C758,497 668,552 561,589" stroke="#111513" stroke-width="4.0" fill="none"/>
<path d="M820,400 C758,497 668,552 561,589" transform="translate(-.8,-.9)" stroke="#565e59" stroke-width="1.4" stroke-dasharray="13 5" fill="none" opacity=".8"/>
<path d="M868,430 C833,527 801,624 786,730" stroke="#181d1a" stroke-width="3.8" fill="none"/>
<path d="M868,430 C833,527 801,624 786,730" transform="translate(-.8,-.9)" stroke="#8d948f" stroke-width="1.4" stroke-dasharray="12 8" fill="none" opacity=".8"/>
<path d="M858,418 C839,537 803,652 759,767" stroke="#151917" stroke-width="3.9" fill="none"/>
<path d="M858,418 C839,537 803,652 759,767" transform="translate(-.8,-.9)" stroke="#a4aaa6" stroke-width="1.4" stroke-dasharray="15 6" fill="none" opacity=".8"/>
<path d="M850,420 C804,532 755,643 687,748" stroke="#111513" stroke-width="3.2" fill="none"/>
<path d="M850,420 C804,532 755,643 687,748" transform="translate(-.8,-.9)" stroke="#6b736e" stroke-width="1.4" stroke-dasharray="10 7" fill="none" opacity=".8"/>
<path d="M860,419 C830,539 781,652 734,769" stroke="#181d1a" stroke-width="3.6" fill="none"/>
<path d="M860,419 C830,539 781,652 734,769" transform="translate(-.8,-.9)" stroke="#a4aaa6" stroke-width="1.4" stroke-dasharray="11 4" fill="none" opacity=".8"/>
<path d="M864,428 C835,534 801,639 780,751" stroke="#111513" stroke-width="3.2" fill="none"/>
<path d="M864,428 C835,534 801,639 780,751" transform="translate(-.8,-.9)" stroke="#a4aaa6" stroke-width="1.4" stroke-dasharray="12 5" fill="none" opacity=".8"/>
<path d="M868,424 C832,523 811,627 788,732" stroke="#0a0d0b" stroke-width="3.9" fill="none"/>
<path d="M868,424 C832,523 811,627 788,732" transform="translate(-.8,-.9)" stroke="#a4aaa6" stroke-width="1.4" stroke-dasharray="13 4" fill="none" opacity=".8"/>
<path d="M861,422 C824,525 805,633 784,744" stroke="#181d1a" stroke-width="3.4" fill="none"/>
<path d="M861,422 C824,525 805,633 784,744" transform="translate(-.8,-.9)" stroke="#8d948f" stroke-width="1.4" stroke-dasharray="16 6" fill="none" opacity=".8"/>
<path d="M852,416 C811,534 765,649 693,755" stroke="#0a0d0b" stroke-width="3.3" fill="none"/>
<path d="M852,416 C811,534 765,649 693,755" transform="translate(-.8,-.9)" stroke="#7b837e" stroke-width="1.4" stroke-dasharray="11 4" fill="none" opacity=".8"/>
<path d="M812,394 C775,495 702,550 600,572" stroke="#151917" stroke-width="3.5" fill="none"/>
<path d="M812,394 C775,495 702,550 600,572" transform="translate(-.8,-.9)" stroke="#7b837e" stroke-width="1.4" stroke-dasharray="10 5" fill="none" opacity=".8"/>
<path d="M805,394 C783,481 729,528 644,538" stroke="#181d1a" stroke-width="3.8" fill="none"/>
<path d="M805,394 C783,481 729,528 644,538" transform="translate(-.8,-.9)" stroke="#565e59" stroke-width="1.4" stroke-dasharray="13 9" fill="none" opacity=".8"/>
<path d="M838,410 C778,522 703,622 599,701" stroke="#0a0d0b" stroke-width="3.0" fill="none"/>
<path d="M838,410 C778,522 703,622 599,701" transform="translate(-.8,-.9)" stroke="#6b736e" stroke-width="1.4" stroke-dasharray="16 7" fill="none" opacity=".8"/>
<path d="M816,398 C767,496 681,545 581,579" stroke="#262d29" stroke-width="2.9" fill="none"/>
<path d="M816,398 C767,496 681,545 581,579" transform="translate(-.8,-.9)" stroke="#a4aaa6" stroke-width="1.4" stroke-dasharray="8 7" fill="none" opacity=".8"/>
<path d="M849,421 C821,543 762,650 702,761" stroke="#0a0d0b" stroke-width="3.4" fill="none"/>
<path d="M849,421 C821,543 762,650 702,761" transform="translate(-.8,-.9)" stroke="#6b736e" stroke-width="1.4" stroke-dasharray="15 4" fill="none" opacity=".8"/>
<path d="M840,409 C796,530 725,633 635,728" stroke="#181d1a" stroke-width="2.8" fill="none"/>
<path d="M840,409 C796,530 725,633 635,728" transform="translate(-.8,-.9)" stroke="#7b837e" stroke-width="1.4" stroke-dasharray="10 5" fill="none" opacity=".8"/>
<path d="M834,410 C771,520 682,605 581,684" stroke="#262d29" stroke-width="3.4" fill="none"/>
<path d="M834,410 C771,520 682,605 581,684" transform="translate(-.8,-.9)" stroke="#a4aaa6" stroke-width="1.4" stroke-dasharray="14 8" fill="none" opacity=".8"/>
<path d="M863,430 C817,520 809,619 793,719" stroke="#0a0d0b" stroke-width="3.9" fill="none"/>
<path d="M863,430 C817,520 809,619 793,719" transform="translate(-.8,-.9)" stroke="#565e59" stroke-width="1.4" stroke-dasharray="11 8" fill="none" opacity=".8"/>
<path d="M836,415 C780,528 704,626 610,714" stroke="#181d1a" stroke-width="3.9" fill="none"/>
<path d="M836,415 C780,528 704,626 610,714" transform="translate(-.8,-.9)" stroke="#7b837e" stroke-width="1.4" stroke-dasharray="8 7" fill="none" opacity=".8"/>
<path d="M864,429 C830,525 801,623 788,728" stroke="#111513" stroke-width="3.2" fill="none"/>
<path d="M864,429 C830,525 801,623 788,728" transform="translate(-.8,-.9)" stroke="#a4aaa6" stroke-width="1.4" stroke-dasharray="12 5" fill="none" opacity=".8"/>
<path d="M807,394 C792,480 739,518 659,525" stroke="#181d1a" stroke-width="3.6" fill="none"/>
<path d="M807,394 C792,480 739,518 659,525" transform="translate(-.8,-.9)" stroke="#565e59" stroke-width="1.4" stroke-dasharray="11 5" fill="none" opacity=".8"/>
<path d="M815,396 C762,497 673,548 569,585" stroke="#262d29" stroke-width="3.2" fill="none"/>
<path d="M815,396 C762,497 673,548 569,585" transform="translate(-.8,-.9)" stroke="#6b736e" stroke-width="1.4" stroke-dasharray="10 5" fill="none" opacity=".8"/>
<path d="M849,414 C799,529 744,641 666,745" stroke="#111513" stroke-width="3.1" fill="none"/>
<path d="M849,414 C799,529 744,641 666,745" transform="translate(-.8,-.9)" stroke="#8d948f" stroke-width="1.4" stroke-dasharray="12 7" fill="none" opacity=".8"/>
<path d="M841,410 C783,525 707,626 603,708" stroke="#111513" stroke-width="3.2" fill="none"/>
<path d="M841,410 C783,525 707,626 603,708" transform="translate(-.8,-.9)" stroke="#8d948f" stroke-width="1.4" stroke-dasharray="9 6" fill="none" opacity=".8"/>
<path d="M847,415 C804,533 741,640 673,748" stroke="#1f2522" stroke-width="2.8" fill="none"/>
<path d="M847,415 C804,533 741,640 673,748" transform="translate(-.8,-.9)" stroke="#565e59" stroke-width="1.4" stroke-dasharray="12 6" fill="none" opacity=".8"/>
<path d="M823,401 C758,510 656,573 544,629" stroke="#181d1a" stroke-width="3.9" fill="none"/>
<path d="M823,401 C758,510 656,573 544,629" transform="translate(-.8,-.9)" stroke="#8d948f" stroke-width="1.4" stroke-dasharray="8 5" fill="none" opacity=".8"/>
<path d="M817,396 C773,489 703,548 601,568" stroke="#0a0d0b" stroke-width="3.7" fill="none"/>
<path d="M817,396 C773,489 703,548 601,568" transform="translate(-.8,-.9)" stroke="#6b736e" stroke-width="1.4" stroke-dasharray="13 6" fill="none" opacity=".8"/>
<path d="M873,426 C833,513 805,602 810,701" stroke="#1f2522" stroke-width="4.0" fill="none"/>
<path d="M873,426 C833,513 805,602 810,701" transform="translate(-.8,-.9)" stroke="#8d948f" stroke-width="1.4" stroke-dasharray="12 8" fill="none" opacity=".8"/>
<path d="M829,407 C767,518 679,604 572,676" stroke="#111513" stroke-width="3.8" fill="none"/>
<path d="M829,407 C767,518 679,604 572,676" transform="translate(-.8,-.9)" stroke="#6b736e" stroke-width="1.4" stroke-dasharray="13 9" fill="none" opacity=".8"/>
<path d="M828,402 C763,514 670,597 557,662" stroke="#181d1a" stroke-width="3.9" fill="none"/>
<path d="M828,402 C763,514 670,597 557,662" transform="translate(-.8,-.9)" stroke="#a4aaa6" stroke-width="1.4" stroke-dasharray="12 4" fill="none" opacity=".8"/>
<path d="M830,400 C763,513 665,591 543,643" stroke="#262d29" stroke-width="3.6" fill="none"/>
<path d="M830,400 C763,513 665,591 543,643" transform="translate(-.8,-.9)" stroke="#565e59" stroke-width="1.4" stroke-dasharray="15 4" fill="none" opacity=".8"/>
<path d="M820,398 C752,498 660,566 544,605" stroke="#151917" stroke-width="3.5" fill="none"/>
<path d="M820,398 C752,498 660,566 544,605" transform="translate(-.8,-.9)" stroke="#565e59" stroke-width="1.4" stroke-dasharray="15 7" fill="none" opacity=".8"/>
<path d="M845,417 C804,536 735,639 661,744" stroke="#151917" stroke-width="4.0" fill="none"/>
<path d="M845,417 C804,536 735,639 661,744" transform="translate(-.8,-.9)" stroke="#6b736e" stroke-width="1.4" stroke-dasharray="9 8" fill="none" opacity=".8"/>
<path d="M828,406 C759,513 664,587 543,633" stroke="#262d29" stroke-width="3.3" fill="none"/>
<path d="M828,406 C759,513 664,587 543,633" transform="translate(-.8,-.9)" stroke="#565e59" stroke-width="1.4" stroke-dasharray="11 6" fill="none" opacity=".8"/>
<path d="M822,398 C758,503 655,553 544,596" stroke="#111513" stroke-width="3.3" fill="none"/>
<path d="M822,398 C758,503 655,553 544,596" transform="translate(-.8,-.9)" stroke="#7b837e" stroke-width="1.4" stroke-dasharray="13 7" fill="none" opacity=".8"/>
<path d="M849,410 C796,526 736,638 655,742" stroke="#0a0d0b" stroke-width="3.4" fill="none"/>
<path d="M849,410 C796,526 736,638 655,742" transform="translate(-.8,-.9)" stroke="#565e59" stroke-width="1.4" stroke-dasharray="12 7" fill="none" opacity=".8"/>
<path d="M855,418 C821,540 777,659 713,773" stroke="#151917" stroke-width="2.9" fill="none"/>
<path d="M855,418 C821,540 777,659 713,773" transform="translate(-.8,-.9)" stroke="#a4aaa6" stroke-width="1.4" stroke-dasharray="9 6" fill="none" opacity=".8"/>
<path d="M837,407 C776,522 681,605 574,682" stroke="#181d1a" stroke-width="3.7" fill="none"/>
<path d="M837,407 C776,522 681,605 574,682" transform="translate(-.8,-.9)" stroke="#a4aaa6" stroke-width="1.4" stroke-dasharray="10 6" fill="none" opacity=".8"/>
<path d="M824,405 C758,511 664,577 544,614" stroke="#151917" stroke-width="3.3" fill="none"/>
<path d="M824,405 C758,511 664,577 544,614" transform="translate(-.8,-.9)" stroke="#8d948f" stroke-width="1.4" stroke-dasharray="14 8" fill="none" opacity=".8"/>
<path d="M827,401 C759,513 667,597 547,655" stroke="#0a0d0b" stroke-width="3.1" fill="none"/>
<path d="M827,401 C759,513 667,597 547,655" transform="translate(-.8,-.9)" stroke="#8d948f" stroke-width="1.4" stroke-dasharray="15 8" fill="none" opacity=".8"/>
<path d="M853,422 C812,540 759,652 703,768" stroke="#151917" stroke-width="3.1" fill="none"/>
<path d="M853,422 C812,540 759,652 703,768" transform="translate(-.8,-.9)" stroke="#a4aaa6" stroke-width="1.4" stroke-dasharray="9 8" fill="none" opacity=".8"/>
<path d="M828,405 C756,507 655,571 542,622" stroke="#262d29" stroke-width="3.2" fill="none"/>
<path d="M828,405 C756,507 655,571 542,622" transform="translate(-.8,-.9)" stroke="#7b837e" stroke-width="1.4" stroke-dasharray="14 6" fill="none" opacity=".8"/>
<path d="M861,420 C828,535 796,651 770,772" stroke="#151917" stroke-width="2.8" fill="none"/>
<path d="M861,420 C828,535 796,651 770,772" transform="translate(-.8,-.9)" stroke="#565e59" stroke-width="1.4" stroke-dasharray="10 5" fill="none" opacity=".8"/>
<path d="M808,397 C784,492 714,526 628,542" stroke="#262d29" stroke-width="3.1" fill="none"/>
<path d="M808,397 C784,492 714,526 628,542" transform="translate(-.8,-.9)" stroke="#6b736e" stroke-width="1.4" stroke-dasharray="12 8" fill="none" opacity=".8"/>
<path d="M852,419 C819,541 767,655 698,766" stroke="#1f2522" stroke-width="3.9" fill="none"/>
<path d="M852,419 C819,541 767,655 698,766" transform="translate(-.8,-.9)" stroke="#6b736e" stroke-width="1.4" stroke-dasharray="14 8" fill="none" opacity=".8"/>
<path d="M812,389 C784,485 712,525 622,546" stroke="#151917" stroke-width="4.0" fill="none"/>
<path d="M812,389 C784,485 712,525 622,546" transform="translate(-.8,-.9)" stroke="#6b736e" stroke-width="1.4" stroke-dasharray="14 5" fill="none" opacity=".8"/>
<path d="M839,411 C781,528 695,620 587,699" stroke="#181d1a" stroke-width="3.0" fill="none"/>
<path d="M839,411 C781,528 695,620 587,699" transform="translate(-.8,-.9)" stroke="#a4aaa6" stroke-width="1.4" stroke-dasharray="8 6" fill="none" opacity=".8"/>
<path d="M857,425 C833,542 794,655 765,774" stroke="#111513" stroke-width="3.8" fill="none"/>
<path d="M857,425 C833,542 794,655 765,774" transform="translate(-.8,-.9)" stroke="#6b736e" stroke-width="1.4" stroke-dasharray="11 7" fill="none" opacity=".8"/>
<path d="M830,408 C770,524 680,609 564,674" stroke="#0a0d0b" stroke-width="3.8" fill="none"/>
<path d="M830,408 C770,524 680,609 564,674" transform="translate(-.8,-.9)" stroke="#7b837e" stroke-width="1.4" stroke-dasharray="12 6" fill="none" opacity=".8"/>
<path d="M809,391 C790,485 727,523 639,534" stroke="#0a0d0b" stroke-width="4.0" fill="none"/>
<path d="M809,391 C790,485 727,523 639,534" transform="translate(-.8,-.9)" stroke="#8d948f" stroke-width="1.4" stroke-dasharray="12 6" fill="none" opacity=".8"/>
<path d="M819,401 C763,507 673,563 558,590" stroke="#262d29" stroke-width="4.0" fill="none"/>
<path d="M819,401 C763,507 673,563 558,590" transform="translate(-.8,-.9)" stroke="#7b837e" stroke-width="1.4" stroke-dasharray="13 6" fill="none" opacity=".8"/>
<path d="M857,422 C830,541 793,658 757,778" stroke="#0a0d0b" stroke-width="3.8" fill="none"/>
<path d="M857,422 C830,541 793,658 757,778" transform="translate(-.8,-.9)" stroke="#a4aaa6" stroke-width="1.4" stroke-dasharray="15 9" fill="none" opacity=".8"/>
<path d="M812,395 C780,496 700,535 605,559" stroke="#262d29" stroke-width="3.5" fill="none"/>
<path d="M812,395 C780,496 700,535 605,559" transform="translate(-.8,-.9)" stroke="#8d948f" stroke-width="1.4" stroke-dasharray="9 5" fill="none" opacity=".8"/>
<path d="M837,405 C774,520 693,619 594,710" stroke="#262d29" stroke-width="3.5" fill="none"/>
<path d="M837,405 C774,520 693,619 594,710" transform="translate(-.8,-.9)" stroke="#6b736e" stroke-width="1.4" stroke-dasharray="9 5" fill="none" opacity=".8"/>
<path d="M807,392 C794,486 730,515 648,526" stroke="#181d1a" stroke-width="3.5" fill="none"/>
<path d="M807,392 C794,486 730,515 648,526" transform="translate(-.8,-.9)" stroke="#a4aaa6" stroke-width="1.4" stroke-dasharray="10 4" fill="none" opacity=".8"/>
<path d="M826,402 C754,509 663,596 546,659" stroke="#0a0d0b" stroke-width="3.6" fill="none"/>
<path d="M826,402 C754,509 663,596 546,659" transform="translate(-.8,-.9)" stroke="#a4aaa6" stroke-width="1.4" stroke-dasharray="15 8" fill="none" opacity=".8"/>
<path d="M831,410 C773,528 683,614 569,683" stroke="#111513" stroke-width="3.0" fill="none"/>
<path d="M831,410 C773,528 683,614 569,683" transform="translate(-.8,-.9)" stroke="#a4aaa6" stroke-width="1.4" stroke-dasharray="11 8" fill="none" opacity=".8"/>
<path d="M860,426 C829,542 804,660 764,777" stroke="#1f2522" stroke-width="3.1" fill="none"/>
<path d="M860,426 C829,542 804,660 764,777" transform="translate(-.8,-.9)" stroke="#8d948f" stroke-width="1.4" stroke-dasharray="12 9" fill="none" opacity=".8"/>
<path d="M825,400 C758,508 661,574 538,610" stroke="#181d1a" stroke-width="3.4" fill="none"/>
<path d="M825,400 C758,508 661,574 538,610" transform="translate(-.8,-.9)" stroke="#565e59" stroke-width="1.4" stroke-dasharray="10 7" fill="none" opacity=".8"/>
<path d="M809,388 C784,485 720,532 624,544" stroke="#181d1a" stroke-width="2.9" fill="none"/>
<path d="M809,388 C784,485 720,532 624,544" transform="translate(-.8,-.9)" stroke="#a4aaa6" stroke-width="1.4" stroke-dasharray="16 4" fill="none" opacity=".8"/>
<path d="M868,425 C827,517 806,613 803,716" stroke="#262d29" stroke-width="3.3" fill="none"/>
<path d="M868,425 C827,517 806,613 803,716" transform="translate(-.8,-.9)" stroke="#565e59" stroke-width="1.4" stroke-dasharray="11 8" fill="none" opacity=".8"/>
<path d="M855,418 C830,546 778,664 719,783" stroke="#151917" stroke-width="3.1" fill="none"/>
<path d="M855,418 C830,546 778,664 719,783" transform="translate(-.8,-.9)" stroke="#6b736e" stroke-width="1.4" stroke-dasharray="11 6" fill="none" opacity=".8"/>
<path d="M813,395 C789,491 720,527 630,538" stroke="#151917" stroke-width="3.3" fill="none"/>
<path d="M813,395 C789,491 720,527 630,538" transform="translate(-.8,-.9)" stroke="#a4aaa6" stroke-width="1.4" stroke-dasharray="10 7" fill="none" opacity=".8"/>
<path d="M812,392 C775,494 691,537 593,567" stroke="#262d29" stroke-width="3.5" fill="none"/>
<path d="M812,392 C775,494 691,537 593,567" transform="translate(-.8,-.9)" stroke="#6b736e" stroke-width="1.4" stroke-dasharray="11 5" fill="none" opacity=".8"/>
<path d="M817,398 C778,497 699,543 599,563" stroke="#181d1a" stroke-width="3.3" fill="none"/>
<path d="M817,398 C778,497 699,543 599,563" transform="translate(-.8,-.9)" stroke="#a4aaa6" stroke-width="1.4" stroke-dasharray="11 8" fill="none" opacity=".8"/>
<path d="M841,417 C796,537 729,645 642,744" stroke="#151917" stroke-width="2.9" fill="none"/>
<path d="M841,417 C796,537 729,645 642,744" transform="translate(-.8,-.9)" stroke="#6b736e" stroke-width="1.4" stroke-dasharray="12 5" fill="none" opacity=".8"/>
<path d="M827,402 C751,503 659,584 535,630" stroke="#181d1a" stroke-width="2.8" fill="none"/>
<path d="M827,402 C751,503 659,584 535,630" transform="translate(-.8,-.9)" stroke="#6b736e" stroke-width="1.4" stroke-dasharray="14 7" fill="none" opacity=".8"/>
<path d="M821,395 C748,493 659,566 536,599" stroke="#181d1a" stroke-width="4.0" fill="none"/>
<path d="M821,395 C748,493 659,566 536,599" transform="translate(-.8,-.9)" stroke="#6b736e" stroke-width="1.4" stroke-dasharray="13 5" fill="none" opacity=".8"/>
<path d="M840,411 C789,532 720,641 631,742" stroke="#0a0d0b" stroke-width="3.2" fill="none"/>
<path d="M840,411 C789,532 720,641 631,742" transform="translate(-.8,-.9)" stroke="#565e59" stroke-width="1.4" stroke-dasharray="12 6" fill="none" opacity=".8"/>
<path d="M829,403 C765,521 665,601 554,676" stroke="#262d29" stroke-width="3.5" fill="none"/>
<path d="M829,403 C765,521 665,601 554,676" transform="translate(-.8,-.9)" stroke="#8d948f" stroke-width="1.4" stroke-dasharray="16 9" fill="none" opacity=".8"/>
<path d="M855,425 C826,547 794,669 737,787" stroke="#1f2522" stroke-width="3.3" fill="none"/>
<path d="M855,425 C826,547 794,669 737,787" transform="translate(-.8,-.9)" stroke="#8d948f" stroke-width="1.4" stroke-dasharray="13 8" fill="none" opacity=".8"/>
<path d="M810,396 C774,491 701,536 604,555" stroke="#0a0d0b" stroke-width="2.9" fill="none"/>
<path d="M810,396 C774,491 701,536 604,555" transform="translate(-.8,-.9)" stroke="#565e59" stroke-width="1.4" stroke-dasharray="13 8" fill="none" opacity=".8"/>
<path d="M825,404 C753,515 653,593 530,650" stroke="#111513" stroke-width="3.4" fill="none"/>
<path d="M825,404 C753,515 653,593 530,650" transform="translate(-.8,-.9)" stroke="#7b837e" stroke-width="1.4" stroke-dasharray="10 6" fill="none" opacity=".8"/>
<path d="M835,407 C770,524 669,605 559,682" stroke="#111513" stroke-width="3.4" fill="none"/>
<path d="M835,407 C770,524 669,605 559,682" transform="translate(-.8,-.9)" stroke="#6b736e" stroke-width="1.4" stroke-dasharray="14 4" fill="none" opacity=".8"/>
<path d="M808,387 C784,476 726,524 633,532" stroke="#111513" stroke-width="4.0" fill="none"/>
<path d="M808,387 C784,476 726,524 633,532" transform="translate(-.8,-.9)" stroke="#7b837e" stroke-width="1.4" stroke-dasharray="14 9" fill="none" opacity=".8"/>
<path d="M838,413 C784,533 704,635 615,735" stroke="#262d29" stroke-width="3.8" fill="none"/>
<path d="M838,413 C784,533 704,635 615,735" transform="translate(-.8,-.9)" stroke="#565e59" stroke-width="1.4" stroke-dasharray="14 5" fill="none" opacity=".8"/>
<path d="M818,403 C746,502 646,561 530,601" stroke="#1f2522" stroke-width="3.0" fill="none"/>
<path d="M818,403 C746,502 646,561 530,601" transform="translate(-.8,-.9)" stroke="#a4aaa6" stroke-width="1.4" stroke-dasharray="15 9" fill="none" opacity=".8"/>
<path d="M864,423 C829,540 800,658 772,780" stroke="#0a0d0b" stroke-width="2.9" fill="none"/>
<path d="M864,423 C829,540 800,658 772,780" transform="translate(-.8,-.9)" stroke="#565e59" stroke-width="1.4" stroke-dasharray="12 7" fill="none" opacity=".8"/>
<path d="M738,478 Q765,488 800,516" stroke="#060807" stroke-width="3.2" fill="none"/>
<path d="M738,477 Q765,487 800,515" stroke="#4b544f" stroke-width=".8" fill="none" opacity=".8"/>
</g>
<use href="#lb" transform="translate(674,586) rotate(-39)"/>
<use href="#lb" transform="translate(731,630) rotate(-57)"/>
<use href="#lb" transform="translate(809,617) rotate(-76)"/>
<use href="#lb" transform="translate(819,576) rotate(-81)"/>
<use href="#lb" transform="translate(664,550) rotate(-30)"/>
<use href="#lb" transform="translate(771,657) rotate(-67)"/>
<use href="#lb" transform="translate(716,632) rotate(-53)"/>
<use href="#lb" transform="translate(808,627) rotate(-76)"/>
<use href="#lb" transform="translate(736,646) rotate(-53)"/>
<use href="#lb" transform="translate(694,629) rotate(-56)"/>
<use href="#lb" transform="translate(810,610) rotate(-80)"/>
<use href="#lb" transform="translate(667,543) rotate(-29)"/>
<use href="#lb" transform="translate(656,592) rotate(-34)"/>
<use href="#lb" transform="translate(671,610) rotate(-40)"/>
<use href="#lb" transform="translate(751,653) rotate(-63)"/>
<use href="#lb" transform="translate(664,596) rotate(-36)"/>
<use href="#lb" transform="translate(656,559) rotate(-31)"/>
<use href="#lb" transform="translate(649,590) rotate(-36)"/>
<use href="#lb" transform="translate(756,661) rotate(-62)"/>
<use href="#lb" transform="translate(714,645) rotate(-53)"/>
<use href="#lb" transform="translate(661,604) rotate(-43)"/>
<use href="#lb" transform="translate(672,610) rotate(-49)"/>
<use href="#lb" transform="translate(674,537) rotate(-26)"/>
<use href="#lb" transform="translate(664,616) rotate(-43)"/>
<use href="#lb" transform="translate(712,651) rotate(-55)"/>
<use href="#lb" transform="translate(660,549) rotate(-29)"/>
<use href="#lb" transform="translate(724,655) rotate(-64)"/>
<use href="#lb" transform="translate(780,675) rotate(-71)"/>
<use href="#lb" transform="translate(695,649) rotate(-49)"/>
<use href="#lb" transform="translate(716,660) rotate(-52)"/>
<use href="#lb" transform="translate(648,608) rotate(-37)"/>
<use href="#lb" transform="translate(660,626) rotate(-43)"/>
<use href="#lb" transform="translate(667,628) rotate(-42)"/>
<use href="#lb" transform="translate(642,562) rotate(-34)"/>
<use href="#lb" transform="translate(806,621) rotate(-76)"/>
<use href="#lb" transform="translate(638,578) rotate(-27)"/>
<use href="#lb" transform="translate(642,559) rotate(-33)"/>
<use href="#lb" transform="translate(733,673) rotate(-61)"/>
<use href="#lb" transform="translate(673,646) rotate(-47)"/>
<use href="#lb" transform="translate(726,671) rotate(-59)"/>
<use href="#lb" transform="translate(674,647) rotate(-50)"/>
<use href="#lb" transform="translate(809,628) rotate(-79)"/>
<use href="#lb" transform="translate(803,661) rotate(-73)"/>
<use href="#lb" transform="translate(815,611) rotate(-81)"/>
<use href="#lb" transform="translate(661,633) rotate(-45)"/>
<use href="#lb" transform="translate(665,643) rotate(-45)"/>
<use href="#lb" transform="translate(781,692) rotate(-73)"/>
<use href="#lb" transform="translate(622,592) rotate(-32)"/>
<use href="#lb" transform="translate(726,681) rotate(-53)"/>
<use href="#lb" transform="translate(686,666) rotate(-52)"/>
<use href="#lb" transform="translate(627,581) rotate(-27)"/>
<use href="#lb" transform="translate(670,653) rotate(-48)"/>
<use href="#lb" transform="translate(775,694) rotate(-71)"/>
<use href="#lb" transform="translate(796,668) rotate(-78)"/>
<use href="#lb" transform="translate(672,537) rotate(-29)"/>
<use href="#lb" transform="translate(749,693) rotate(-66)"/>
<use href="#lb" transform="translate(801,641) rotate(-79)"/>
<use href="#lb" transform="translate(633,623) rotate(-38)"/>
<use href="#lb" transform="translate(703,678) rotate(-57)"/>
<use href="#lb" transform="translate(741,695) rotate(-59)"/>
<use href="#lb" transform="translate(615,584) rotate(-27)"/>
<use href="#lb" transform="translate(791,696) rotate(-76)"/>
<use href="#lb" transform="translate(634,561) rotate(-24)"/>
<use href="#lb" transform="translate(719,691) rotate(-60)"/>
<use href="#lb" transform="translate(682,675) rotate(-51)"/>
<use href="#lb" transform="translate(728,700) rotate(-57)"/>
<use href="#lb" transform="translate(688,678) rotate(-53)"/>
<use href="#lb" transform="translate(657,547) rotate(-31)"/>
<use href="#lb" transform="translate(646,553) rotate(-31)"/>
<use href="#lb" transform="translate(794,697) rotate(-75)"/>
<use href="#lb" transform="translate(754,714) rotate(-65)"/>
<use href="#lb" transform="translate(603,621) rotate(-31)"/>
<use href="#lb" transform="translate(807,646) rotate(-81)"/>
<use href="#lb" transform="translate(668,677) rotate(-47)"/>
<use href="#lb" transform="translate(799,684) rotate(-81)"/>
<use href="#lb" transform="translate(765,716) rotate(-68)"/>
<use href="#lb" transform="translate(654,553) rotate(-24)"/>
<use href="#lb" transform="translate(787,713) rotate(-76)"/>
<use href="#lb" transform="translate(646,557) rotate(-22)"/>
<use href="#lb" transform="translate(684,530) rotate(-22)"/>
<use href="#lb" transform="translate(713,700) rotate(-59)"/>
<use href="#lb" transform="translate(667,541) rotate(-23)"/>
<use href="#lb" transform="translate(747,719) rotate(-65)"/>
<use href="#lb" transform="translate(598,576) rotate(-30)"/>
<use href="#lb" transform="translate(628,561) rotate(-24)"/>
<use href="#lb" transform="translate(629,566) rotate(-21)"/>
<use href="#lb" transform="translate(751,727) rotate(-66)"/>
<use href="#lb" transform="translate(597,628) rotate(-33)"/>
<use href="#lb" transform="translate(654,680) rotate(-50)"/>
<use href="#lb" transform="translate(640,676) rotate(-46)"/>
<use href="#lb" transform="translate(676,535) rotate(-19)"/>
<use href="#lb" transform="translate(587,625) rotate(-29)"/>
<use href="#lb" transform="translate(632,566) rotate(-20)"/>
<use href="#lb" transform="translate(586,612) rotate(-24)"/>
<use href="#lb" transform="translate(586,582) rotate(-25)"/>
<use href="#lb" transform="translate(617,653) rotate(-34)"/>
<use href="#lb" transform="translate(801,665) rotate(-87)"/>
<use href="#lb" transform="translate(783,726) rotate(-81)"/>
<use href="#lb" transform="translate(675,528) rotate(-24)"/>
<use href="#lb" transform="translate(800,676) rotate(-81)"/>
<use href="#lb" transform="translate(583,631) rotate(-34)"/>
<use href="#lb" transform="translate(663,697) rotate(-54)"/>
<use href="#lb" transform="translate(750,742) rotate(-62)"/>
<use href="#lb" transform="translate(805,672) rotate(-77)"/>
<use href="#lb" transform="translate(579,605) rotate(-23)"/>
<use href="#lb" transform="translate(587,639) rotate(-33)"/>
<use href="#lb" transform="translate(714,728) rotate(-58)"/>
<use href="#lb" transform="translate(667,539) rotate(-12)"/>
<use href="#lb" transform="translate(617,671) rotate(-37)"/>
<use href="#lb" transform="translate(669,709) rotate(-54)"/>
<use href="#lb" transform="translate(628,686) rotate(-45)"/>
<use href="#lb" transform="translate(666,534) rotate(-13)"/>
<use href="#lb" transform="translate(759,741) rotate(-73)"/>
<use href="#lb" transform="translate(791,692) rotate(-84)"/>
<use href="#lb" transform="translate(767,744) rotate(-73)"/>
<use href="#lb" transform="translate(735,746) rotate(-64)"/>
<use href="#lb" transform="translate(807,667) rotate(-86)"/>
<use href="#lb" transform="translate(573,623) rotate(-28)"/>
<use href="#lb" transform="translate(782,730) rotate(-79)"/>
<use href="#lb" transform="translate(771,742) rotate(-71)"/>
<use href="#lb" transform="translate(673,715) rotate(-52)"/>
<use href="#lb" transform="translate(687,723) rotate(-56)"/>
<use href="#lb" transform="translate(581,643) rotate(-35)"/>
<use href="#lb" transform="translate(627,559) rotate(-17)"/>
<use href="#lb" transform="translate(612,677) rotate(-43)"/>
<use href="#lb" transform="translate(564,624) rotate(-23)"/>
<use href="#lb" transform="translate(614,683) rotate(-40)"/>
<use href="#lb" transform="translate(608,575) rotate(-16)"/>
<use href="#lb" transform="translate(793,698) rotate(-82)"/>
<use href="#lb" transform="translate(770,749) rotate(-72)"/>
<use href="#lb" transform="translate(683,525) rotate(-11)"/>
<use href="#lb" transform="translate(673,718) rotate(-54)"/>
<use href="#lb" transform="translate(674,525) rotate(-14)"/>
<use href="#lb" transform="translate(808,677) rotate(-88)"/>
<use href="#lb" transform="translate(712,745) rotate(-64)"/>
<use href="#lb" transform="translate(683,730) rotate(-53)"/>
<use href="#lb" transform="translate(662,537) rotate(-14)"/>
<use href="#lb" transform="translate(718,753) rotate(-65)"/>
<use href="#lb" transform="translate(635,549) rotate(-16)"/>
<use href="#lb" transform="translate(571,586) rotate(-20)"/>
<use href="#lb" transform="translate(616,562) rotate(-19)"/>
<use href="#lb" transform="translate(739,760) rotate(-68)"/>
<use href="#lb" transform="translate(788,728) rotate(-79)"/>
<use href="#lb" transform="translate(637,715) rotate(-48)"/>
<use href="#lb" transform="translate(621,555) rotate(-12)"/>
<use href="#lb" transform="translate(630,551) rotate(-16)"/>
<use href="#lb" transform="translate(628,713) rotate(-43)"/>
<use href="#lb" transform="translate(754,764) rotate(-70)"/>
<use href="#lb" transform="translate(784,728) rotate(-77)"/>
<use href="#lb" transform="translate(758,764) rotate(-70)"/>
<use href="#lb" transform="translate(625,712) rotate(-42)"/>
<use href="#lb" transform="translate(622,558) rotate(-14)"/>
<use href="#lb" transform="translate(641,542) rotate(-12)"/>
<use href="#lb" transform="translate(555,646) rotate(-26)"/>
<use href="#lb" transform="translate(582,582) rotate(-17)"/>
<use href="#lb" transform="translate(798,703) rotate(-85)"/>
<use href="#lb" transform="translate(600,574) rotate(-16)"/>
<use href="#lb" transform="translate(647,539) rotate(-10)"/>
<use href="#lb" transform="translate(791,727) rotate(-74)"/>
<use href="#lb" transform="translate(665,523) rotate(-13)"/>
<use href="#lb" transform="translate(591,683) rotate(-36)"/>
<use href="#lb" transform="translate(712,760) rotate(-65)"/>
<use href="#lb" transform="translate(561,589) rotate(-19)"/>
<use href="#lb" transform="translate(786,730) rotate(-82)"/>
<use href="#lb" transform="translate(759,767) rotate(-69)"/>
<use href="#lb" transform="translate(687,748) rotate(-57)"/>
<use href="#lb" transform="translate(734,769) rotate(-68)"/>
<use href="#lb" transform="translate(780,751) rotate(-79)"/>
<use href="#lb" transform="translate(788,732) rotate(-78)"/>
<use href="#lb" transform="translate(564,590) rotate(-14)"/>
<use href="#lb" transform="translate(686,747) rotate(-62)"/>
<use href="#lb" transform="translate(784,744) rotate(-79)"/>
<use href="#lb" transform="translate(693,755) rotate(-56)"/>
<use href="#lb" transform="translate(600,572) rotate(-12)"/>
<use href="#lb" transform="translate(644,538) rotate(-6)"/>
<use href="#lb" transform="translate(599,701) rotate(-37)"/>
<use href="#lb" transform="translate(581,579) rotate(-19)"/>
<use href="#lb" transform="translate(702,761) rotate(-61)"/>
<use href="#lb" transform="translate(635,728) rotate(-47)"/>
<use href="#lb" transform="translate(653,529) rotate(-8)"/>
<use href="#lb" transform="translate(581,684) rotate(-38)"/>
<use href="#lb" transform="translate(712,773) rotate(-68)"/>
<use href="#lb" transform="translate(793,719) rotate(-81)"/>
<use href="#lb" transform="translate(610,714) rotate(-43)"/>
<use href="#lb" transform="translate(788,728) rotate(-83)"/>
<use href="#lb" transform="translate(659,525) rotate(-5)"/>
<use href="#lb" transform="translate(569,585) rotate(-19)"/>
<use href="#lb" transform="translate(666,745) rotate(-53)"/>
<use href="#lb" transform="translate(603,708) rotate(-38)"/>
<use href="#lb" transform="translate(673,748) rotate(-58)"/>
<use href="#lb" transform="translate(544,629) rotate(-26)"/>
<use href="#lb" transform="translate(601,568) rotate(-11)"/>
<use href="#lb" transform="translate(810,701) rotate(-93)"/>
<use href="#lb" transform="translate(572,676) rotate(-34)"/>
<use href="#lb" transform="translate(557,662) rotate(-30)"/>
<use href="#lb" transform="translate(611,558) rotate(-12)"/>
<use href="#lb" transform="translate(543,643) rotate(-23)"/>
<use href="#lb" transform="translate(544,605) rotate(-19)"/>
<use href="#lb" transform="translate(661,744) rotate(-55)"/>
<use href="#lb" transform="translate(543,633) rotate(-21)"/>
<use href="#lb" transform="translate(544,596) rotate(-21)"/>
<use href="#lb" transform="translate(655,742) rotate(-52)"/>
<use href="#lb" transform="translate(713,773) rotate(-61)"/>
<use href="#lb" transform="translate(574,682) rotate(-36)"/>
<use href="#lb" transform="translate(544,614) rotate(-17)"/>
<use href="#lb" transform="translate(547,655) rotate(-26)"/>
<use href="#lb" transform="translate(703,768) rotate(-64)"/>
<use href="#lb" transform="translate(606,717) rotate(-43)"/>
<use href="#lb" transform="translate(542,622) rotate(-25)"/>
<use href="#lb" transform="translate(770,772) rotate(-78)"/>
<use href="#lb" transform="translate(628,542) rotate(-11)"/>
<use href="#lb" transform="translate(698,766) rotate(-58)"/>
<use href="#lb" transform="translate(622,546) rotate(-13)"/>
<use href="#lb" transform="translate(587,699) rotate(-36)"/>
<use href="#lb" transform="translate(765,774) rotate(-76)"/>
<use href="#lb" transform="translate(564,674) rotate(-29)"/>
<use href="#lb" transform="translate(639,534) rotate(-7)"/>
<use href="#lb" transform="translate(558,590) rotate(-13)"/>
<use href="#lb" transform="translate(757,778) rotate(-74)"/>
<use href="#lb" transform="translate(605,559) rotate(-14)"/>
<use href="#lb" transform="translate(594,710) rotate(-42)"/>
<use href="#lb" transform="translate(648,526) rotate(-8)"/>
<use href="#lb" transform="translate(546,659) rotate(-28)"/>
<use href="#lb" transform="translate(569,683) rotate(-31)"/>
<use href="#lb" transform="translate(764,777) rotate(-71)"/>
<use href="#lb" transform="translate(538,610) rotate(-17)"/>
<use href="#lb" transform="translate(624,544) rotate(-7)"/>
<use href="#lb" transform="translate(803,716) rotate(-88)"/>
<use href="#lb" transform="translate(719,783) rotate(-63)"/>
<use href="#lb" transform="translate(630,538) rotate(-7)"/>
<use href="#lb" transform="translate(593,567) rotate(-17)"/>
<use href="#lb" transform="translate(599,563) rotate(-11)"/>
<use href="#lb" transform="translate(642,744) rotate(-49)"/>
<use href="#lb" transform="translate(535,630) rotate(-20)"/>
<use href="#lb" transform="translate(536,599) rotate(-15)"/>
<use href="#lb" transform="translate(631,742) rotate(-49)"/>
<use href="#lb" transform="translate(554,676) rotate(-34)"/>
<use href="#lb" transform="translate(737,787) rotate(-64)"/>
<use href="#lb" transform="translate(604,555) rotate(-11)"/>
<use href="#lb" transform="translate(530,650) rotate(-25)"/>
<use href="#lb" transform="translate(559,682) rotate(-35)"/>
<use href="#lb" transform="translate(633,532) rotate(-5)"/>
<use href="#lb" transform="translate(615,735) rotate(-48)"/>
<use href="#lb" transform="translate(530,601) rotate(-19)"/>
<use href="#lb" transform="translate(772,780) rotate(-77)"/>
<use href="#lc2" transform="translate(674,586) rotate(-39)"/>
<use href="#lc2" transform="translate(731,630) rotate(-57)"/>
<use href="#lc2" transform="translate(809,617) rotate(-76)"/>
<use href="#lc2" transform="translate(819,576) rotate(-81)"/>
<use href="#lc2" transform="translate(664,550) rotate(-30)"/>
<use href="#lc2" transform="translate(771,657) rotate(-67)"/>
<use href="#lc2" transform="translate(716,632) rotate(-53)"/>
<use href="#lc2" transform="translate(808,627) rotate(-76)"/>
<use href="#lc2" transform="translate(736,646) rotate(-53)"/>
<use href="#lc2" transform="translate(694,629) rotate(-56)"/>
<use href="#lc2" transform="translate(810,610) rotate(-80)"/>
<use href="#lc2" transform="translate(667,543) rotate(-29)"/>
<use href="#lc2" transform="translate(656,592) rotate(-34)"/>
<use href="#lc2" transform="translate(671,610) rotate(-40)"/>
<use href="#lc2" transform="translate(751,653) rotate(-63)"/>
<use href="#lc2" transform="translate(664,596) rotate(-36)"/>
<use href="#lc2" transform="translate(656,559) rotate(-31)"/>
<use href="#lc2" transform="translate(649,590) rotate(-36)"/>
<use href="#lc2" transform="translate(756,661) rotate(-62)"/>
<use href="#lc2" transform="translate(714,645) rotate(-53)"/>
<use href="#lc2" transform="translate(661,604) rotate(-43)"/>
<use href="#lc2" transform="translate(672,610) rotate(-49)"/>
<use href="#lc2" transform="translate(674,537) rotate(-26)"/>
<use href="#lc2" transform="translate(664,616) rotate(-43)"/>
<use href="#lc2" transform="translate(712,651) rotate(-55)"/>
<use href="#lc2" transform="translate(660,549) rotate(-29)"/>
<use href="#lc2" transform="translate(724,655) rotate(-64)"/>
<use href="#lc2" transform="translate(780,675) rotate(-71)"/>
<use href="#lc2" transform="translate(695,649) rotate(-49)"/>
<use href="#lc2" transform="translate(716,660) rotate(-52)"/>
<use href="#lc2" transform="translate(648,608) rotate(-37)"/>
<use href="#lc2" transform="translate(660,626) rotate(-43)"/>
<use href="#lc2" transform="translate(667,628) rotate(-42)"/>
<use href="#lc2" transform="translate(642,562) rotate(-34)"/>
<use href="#lc2" transform="translate(806,621) rotate(-76)"/>
<use href="#lc2" transform="translate(638,578) rotate(-27)"/>
<use href="#lc2" transform="translate(642,559) rotate(-33)"/>
<use href="#lc2" transform="translate(733,673) rotate(-61)"/>
<use href="#lc2" transform="translate(673,646) rotate(-47)"/>
<use href="#lc2" transform="translate(726,671) rotate(-59)"/>
<use href="#lc2" transform="translate(674,647) rotate(-50)"/>
<use href="#lc2" transform="translate(809,628) rotate(-79)"/>
<use href="#lc2" transform="translate(803,661) rotate(-73)"/>
<use href="#lc2" transform="translate(815,611) rotate(-81)"/>
<use href="#lc2" transform="translate(661,633) rotate(-45)"/>
<use href="#lc2" transform="translate(665,643) rotate(-45)"/>
<use href="#lc2" transform="translate(781,692) rotate(-73)"/>
<use href="#lc2" transform="translate(622,592) rotate(-32)"/>
<use href="#lc2" transform="translate(726,681) rotate(-53)"/>
<use href="#lc2" transform="translate(686,666) rotate(-52)"/>
<use href="#lc2" transform="translate(627,581) rotate(-27)"/>
<use href="#lc2" transform="translate(670,653) rotate(-48)"/>
<use href="#lc2" transform="translate(775,694) rotate(-71)"/>
<use href="#lc2" transform="translate(796,668) rotate(-78)"/>
<use href="#lc2" transform="translate(672,537) rotate(-29)"/>
<use href="#lc2" transform="translate(749,693) rotate(-66)"/>
<use href="#lc2" transform="translate(801,641) rotate(-79)"/>
<use href="#lc2" transform="translate(633,623) rotate(-38)"/>
<use href="#lc2" transform="translate(703,678) rotate(-57)"/>
<use href="#lc2" transform="translate(741,695) rotate(-59)"/>
<use href="#lc2" transform="translate(615,584) rotate(-27)"/>
<use href="#lc2" transform="translate(791,696) rotate(-76)"/>
<use href="#lc2" transform="translate(634,561) rotate(-24)"/>
<use href="#lc2" transform="translate(719,691) rotate(-60)"/>
<use href="#lc2" transform="translate(682,675) rotate(-51)"/>
<use href="#lc2" transform="translate(728,700) rotate(-57)"/>
<use href="#lc2" transform="translate(688,678) rotate(-53)"/>
<use href="#lc2" transform="translate(657,547) rotate(-31)"/>
<use href="#lc2" transform="translate(646,553) rotate(-31)"/>
<use href="#lc2" transform="translate(794,697) rotate(-75)"/>
<use href="#lc2" transform="translate(754,714) rotate(-65)"/>
<use href="#lc2" transform="translate(603,621) rotate(-31)"/>
<use href="#lc2" transform="translate(807,646) rotate(-81)"/>
<use href="#lc2" transform="translate(668,677) rotate(-47)"/>
<use href="#lc2" transform="translate(799,684) rotate(-81)"/>
<use href="#lc2" transform="translate(765,716) rotate(-68)"/>
<use href="#lc2" transform="translate(654,553) rotate(-24)"/>
<use href="#lc2" transform="translate(787,713) rotate(-76)"/>
<use href="#lc2" transform="translate(646,557) rotate(-22)"/>
<use href="#lc2" transform="translate(684,530) rotate(-22)"/>
<use href="#lc2" transform="translate(713,700) rotate(-59)"/>
<use href="#lc2" transform="translate(667,541) rotate(-23)"/>
<use href="#lc2" transform="translate(747,719) rotate(-65)"/>
<use href="#lc2" transform="translate(598,576) rotate(-30)"/>
<use href="#lc2" transform="translate(628,561) rotate(-24)"/>
<use href="#lc2" transform="translate(629,566) rotate(-21)"/>
<use href="#lc2" transform="translate(751,727) rotate(-66)"/>
<use href="#lc2" transform="translate(597,628) rotate(-33)"/>
<use href="#lc2" transform="translate(654,680) rotate(-50)"/>
<use href="#lc" transform="translate(640,676) rotate(-46)"/>
<use href="#lc" transform="translate(676,535) rotate(-19)"/>
<use href="#lc" transform="translate(587,625) rotate(-29)"/>
<use href="#lc" transform="translate(632,566) rotate(-20)"/>
<use href="#lc" transform="translate(586,612) rotate(-24)"/>
<use href="#lc" transform="translate(586,582) rotate(-25)"/>
<use href="#lc" transform="translate(617,653) rotate(-34)"/>
<use href="#lc" transform="translate(801,665) rotate(-87)"/>
<use href="#lc" transform="translate(783,726) rotate(-81)"/>
<use href="#lc" transform="translate(675,528) rotate(-24)"/>
<use href="#lc" transform="translate(800,676) rotate(-81)"/>
<use href="#lc" transform="translate(583,631) rotate(-34)"/>
<use href="#lc" transform="translate(663,697) rotate(-54)"/>
<use href="#lc" transform="translate(750,742) rotate(-62)"/>
<use href="#lc" transform="translate(805,672) rotate(-77)"/>
<use href="#lc" transform="translate(579,605) rotate(-23)"/>
<use href="#lc" transform="translate(587,639) rotate(-33)"/>
<use href="#lc" transform="translate(714,728) rotate(-58)"/>
<use href="#lc" transform="translate(667,539) rotate(-12)"/>
<use href="#lc" transform="translate(617,671) rotate(-37)"/>
<use href="#lc" transform="translate(669,709) rotate(-54)"/>
<use href="#lc" transform="translate(628,686) rotate(-45)"/>
<use href="#lc" transform="translate(666,534) rotate(-13)"/>
<use href="#lc" transform="translate(759,741) rotate(-73)"/>
<use href="#lc" transform="translate(791,692) rotate(-84)"/>
<use href="#lc" transform="translate(767,744) rotate(-73)"/>
<use href="#lc" transform="translate(735,746) rotate(-64)"/>
<use href="#lc" transform="translate(807,667) rotate(-86)"/>
<use href="#lc" transform="translate(573,623) rotate(-28)"/>
<use href="#lc" transform="translate(782,730) rotate(-79)"/>
<use href="#lc" transform="translate(771,742) rotate(-71)"/>
<use href="#lc" transform="translate(673,715) rotate(-52)"/>
<use href="#lc" transform="translate(687,723) rotate(-56)"/>
<use href="#lc" transform="translate(581,643) rotate(-35)"/>
<use href="#lc" transform="translate(627,559) rotate(-17)"/>
<use href="#lc" transform="translate(612,677) rotate(-43)"/>
<use href="#lc" transform="translate(564,624) rotate(-23)"/>
<use href="#lc" transform="translate(614,683) rotate(-40)"/>
<use href="#lc" transform="translate(608,575) rotate(-16)"/>
<use href="#lc" transform="translate(793,698) rotate(-82)"/>
<use href="#lc" transform="translate(770,749) rotate(-72)"/>
<use href="#lc" transform="translate(683,525) rotate(-11)"/>
<use href="#lc" transform="translate(673,718) rotate(-54)"/>
<use href="#lc" transform="translate(674,525) rotate(-14)"/>
<use href="#lc" transform="translate(808,677) rotate(-88)"/>
<use href="#lc" transform="translate(712,745) rotate(-64)"/>
<use href="#lc" transform="translate(683,730) rotate(-53)"/>
<use href="#lc" transform="translate(662,537) rotate(-14)"/>
<use href="#lc" transform="translate(718,753) rotate(-65)"/>
<use href="#lc" transform="translate(635,549) rotate(-16)"/>
<use href="#lc" transform="translate(571,586) rotate(-20)"/>
<use href="#lc" transform="translate(616,562) rotate(-19)"/>
<use href="#lc" transform="translate(739,760) rotate(-68)"/>
<use href="#lc" transform="translate(788,728) rotate(-79)"/>
<use href="#lc" transform="translate(637,715) rotate(-48)"/>
<use href="#lc" transform="translate(621,555) rotate(-12)"/>
<use href="#lc" transform="translate(630,551) rotate(-16)"/>
<use href="#lc" transform="translate(628,713) rotate(-43)"/>
<use href="#lc" transform="translate(754,764) rotate(-70)"/>
<use href="#lc" transform="translate(784,728) rotate(-77)"/>
<use href="#lc" transform="translate(758,764) rotate(-70)"/>
<use href="#lc" transform="translate(625,712) rotate(-42)"/>
<use href="#lc" transform="translate(622,558) rotate(-14)"/>
<use href="#lc" transform="translate(641,542) rotate(-12)"/>
<use href="#lc" transform="translate(555,646) rotate(-26)"/>
<use href="#lc" transform="translate(582,582) rotate(-17)"/>
<use href="#lc" transform="translate(798,703) rotate(-85)"/>
<use href="#lc" transform="translate(600,574) rotate(-16)"/>
<use href="#lc" transform="translate(647,539) rotate(-10)"/>
<use href="#lc" transform="translate(791,727) rotate(-74)"/>
<use href="#lc" transform="translate(665,523) rotate(-13)"/>
<use href="#lc" transform="translate(591,683) rotate(-36)"/>
<use href="#lc" transform="translate(712,760) rotate(-65)"/>
<use href="#lc" transform="translate(561,589) rotate(-19)"/>
<use href="#lc" transform="translate(786,730) rotate(-82)"/>
<use href="#lc" transform="translate(759,767) rotate(-69)"/>
<use href="#lc" transform="translate(687,748) rotate(-57)"/>
<use href="#lc" transform="translate(734,769) rotate(-68)"/>
<use href="#lc" transform="translate(780,751) rotate(-79)"/>
<use href="#lc" transform="translate(788,732) rotate(-78)"/>
<use href="#lc" transform="translate(564,590) rotate(-14)"/>
<use href="#lc" transform="translate(686,747) rotate(-62)"/>
<use href="#lc" transform="translate(784,744) rotate(-79)"/>
<use href="#lc" transform="translate(693,755) rotate(-56)"/>
<use href="#lc" transform="translate(600,572) rotate(-12)"/>
<use href="#lc" transform="translate(644,538) rotate(-6)"/>
<use href="#lc" transform="translate(599,701) rotate(-37)"/>
<use href="#lc" transform="translate(581,579) rotate(-19)"/>
<use href="#lc" transform="translate(702,761) rotate(-61)"/>
<use href="#lc" transform="translate(635,728) rotate(-47)"/>
<use href="#lc" transform="translate(653,529) rotate(-8)"/>
<use href="#lc" transform="translate(581,684) rotate(-38)"/>
<use href="#lc" transform="translate(712,773) rotate(-68)"/>
<use href="#lc" transform="translate(793,719) rotate(-81)"/>
<use href="#lc" transform="translate(610,714) rotate(-43)"/>
<use href="#lc" transform="translate(788,728) rotate(-83)"/>
<use href="#lc" transform="translate(659,525) rotate(-5)"/>
<use href="#lc" transform="translate(569,585) rotate(-19)"/>
<use href="#lc" transform="translate(666,745) rotate(-53)"/>
<use href="#lc" transform="translate(603,708) rotate(-38)"/>
<use href="#lc" transform="translate(673,748) rotate(-58)"/>
<use href="#lc" transform="translate(544,629) rotate(-26)"/>
<use href="#lc" transform="translate(601,568) rotate(-11)"/>
<use href="#lc" transform="translate(810,701) rotate(-93)"/>
<use href="#lc" transform="translate(572,676) rotate(-34)"/>
<use href="#lc" transform="translate(557,662) rotate(-30)"/>
<use href="#lc" transform="translate(611,558) rotate(-12)"/>
<use href="#lc" transform="translate(543,643) rotate(-23)"/>
<use href="#lc" transform="translate(544,605) rotate(-19)"/>
<use href="#lc" transform="translate(661,744) rotate(-55)"/>
<use href="#lc" transform="translate(543,633) rotate(-21)"/>
<use href="#lc" transform="translate(544,596) rotate(-21)"/>
<use href="#lc" transform="translate(655,742) rotate(-52)"/>
<use href="#lc" transform="translate(713,773) rotate(-61)"/>
<use href="#lc" transform="translate(574,682) rotate(-36)"/>
<use href="#lc" transform="translate(544,614) rotate(-17)"/>
<use href="#lc" transform="translate(547,655) rotate(-26)"/>
<use href="#lc" transform="translate(703,768) rotate(-64)"/>
<use href="#lc" transform="translate(606,717) rotate(-43)"/>
<use href="#lc" transform="translate(542,622) rotate(-25)"/>
<use href="#lc" transform="translate(770,772) rotate(-78)"/>
<use href="#lc" transform="translate(628,542) rotate(-11)"/>
<use href="#lc" transform="translate(698,766) rotate(-58)"/>
<use href="#lc" transform="translate(622,546) rotate(-13)"/>
<use href="#lc" transform="translate(587,699) rotate(-36)"/>
<use href="#lc" transform="translate(765,774) rotate(-76)"/>
<use href="#lc" transform="translate(564,674) rotate(-29)"/>
<use href="#lc" transform="translate(639,534) rotate(-7)"/>
<use href="#lc" transform="translate(558,590) rotate(-13)"/>
<use href="#lc" transform="translate(757,778) rotate(-74)"/>
<use href="#lc" transform="translate(605,559) rotate(-14)"/>
<use href="#lc" transform="translate(594,710) rotate(-42)"/>
<use href="#lc" transform="translate(648,526) rotate(-8)"/>
<use href="#lc" transform="translate(546,659) rotate(-28)"/>
<use href="#lc" transform="translate(569,683) rotate(-31)"/>
<use href="#lc" transform="translate(764,777) rotate(-71)"/>
<use href="#lc" transform="translate(538,610) rotate(-17)"/>
<use href="#lc" transform="translate(624,544) rotate(-7)"/>
<use href="#lc" transform="translate(803,716) rotate(-88)"/>
<use href="#lc" transform="translate(719,783) rotate(-63)"/>
<use href="#lc" transform="translate(630,538) rotate(-7)"/>
<use href="#lc" transform="translate(593,567) rotate(-17)"/>
<use href="#lc" transform="translate(599,563) rotate(-11)"/>
<use href="#lc" transform="translate(642,744) rotate(-49)"/>
<use href="#lc" transform="translate(535,630) rotate(-20)"/>
<use href="#lc" transform="translate(536,599) rotate(-15)"/>
<use href="#lc" transform="translate(631,742) rotate(-49)"/>
<use href="#lc" transform="translate(554,676) rotate(-34)"/>
<use href="#lc" transform="translate(737,787) rotate(-64)"/>
<use href="#lc" transform="translate(604,555) rotate(-11)"/>
<use href="#lc" transform="translate(530,650) rotate(-25)"/>
<use href="#lc" transform="translate(559,682) rotate(-35)"/>
<use href="#lc" transform="translate(633,532) rotate(-5)"/>
<use href="#lc" transform="translate(615,735) rotate(-48)"/>
<use href="#lc" transform="translate(530,601) rotate(-19)"/>
<use href="#lc" transform="translate(772,780) rotate(-77)"/>
</g>
</g>
<g id="lines">
  <defs>
    <g id="ico">
      <circle r="8.2" fill="none" stroke="#1fa596" stroke-width="3.4" stroke-dasharray="10.5 2.4" stroke-dashoffset="3" opacity="0.8"/>
      <circle r="4.8" fill="#1fb0a0"/>
    </g>
    <g id="ico2">
      <circle r="7.6" fill="none" stroke="#22a897" stroke-width="2.6" stroke-dasharray="9.5 2.4" stroke-dashoffset="2" opacity="0.75"/>
      <circle r="4.6" fill="#1fae9c"/>
      <path d="M-3,-5 Q-7,0 -3,5" stroke="#0d5a4c" stroke-width="1.4" fill="none" opacity="0.7"/>
    </g>
  </defs>
  <!-- label dashes -->
  <g stroke="#239e93" stroke-width="3" fill="none" stroke-dasharray="12.8 6.5">
    <path d="M161.8,326.3 H175" opacity="0.6"/><path d="M181,326.3 H214"/>
    <path d="M161.8,358.3 H175" opacity="0.6"/><path d="M181,358.3 H214"/>
    <path d="M123.4,406 H175" opacity="0.7"/><path d="M181,406 H214"/>
    <path d="M123.4,442 H214"/>
    <path d="M104.2,551.3 H214"/>
    <path d="M104.2,666.3 H214"/>
  </g>
  <!-- icons -->
  <use href="#ico2" x="145.6" y="325"/>
  <use href="#ico2" x="145.6" y="358.5"/>
  <use href="#ico" x="105.8" y="405.8"/>
  <use href="#ico" x="105.8" y="441.8"/>
  <use href="#ico" x="88" y="551"/>
  <use href="#ico" x="88" y="666"/>
  <!-- top panel callout -->
  <g opacity="0.55" filter="url(#blur1)">
    <circle cx="201" cy="126" r="6.5" fill="none" stroke="#1fb0a0" stroke-width="2.2" stroke-dasharray="8 3"/>
    <circle cx="201.5" cy="126" r="3" fill="#1fb0a0"/>
  </g>
  <path d="M206,123.8 H237" stroke="#239e93" stroke-width="2.4" opacity="0.85"/>
  <path d="M241,123.8 H252.5 M256,123.8 H266.5 M270,123.8 H280.5" stroke="#239e93" stroke-width="2.4"/>
  <path d="M280.8,117.5 V132.3 H351" stroke="#239e93" stroke-width="1.8" fill="none"/>
  <path d="M456,66 H478 V88" stroke="#239e93" stroke-width="2" fill="none"/>
  <!-- angle callout brackets -->
  <path d="M620,291.5 H570.5 V321" stroke="#2a9d96" stroke-width="2" fill="none"/>
  <path d="M704.5,358 H755 V342" stroke="#2a9d96" stroke-width="2" fill="none"/>
  <!-- left dimension lines -->
  <g stroke="#2da39b" stroke-width="1.6" fill="none">
    <path d="M40,431 H67 M53,431 V503 M53,523 V589 M40,589 H67"/>
    <path d="M40,605.5 H67 M53,605.5 V688 M53,708 V795.5 M40,795.5 H67"/>
  </g>
  <!-- center dimension lines -->
  <g stroke="#3a9f9a" stroke-width="1.5" fill="none">
    <path d="M409,391.5 H490 M427.2,391.5 V564 M427.2,608 V781.5 M408.5,781.5 H570.5"/>
  </g>
</g>
<g id="labels">
  <g font-size="20.4" fill="#262626">
    <text x="215.8" y="336" textLength="113.5" lengthAdjust="spacingAndGlyphs">Mode Switch</text>
    <text x="215.8" y="368.7" textLength="119" lengthAdjust="spacingAndGlyphs">Power Switch</text>
    <text x="215.8" y="412.5" textLength="166" lengthAdjust="spacingAndGlyphs">Connecting Trough</text>
    <text x="215.8" y="447" textLength="101.5" lengthAdjust="spacingAndGlyphs">Fixing Plate</text>
    <text x="215.8" y="558.7" textLength="138" lengthAdjust="spacingAndGlyphs">Connecting Rod</text>
    <text x="215.8" y="670.7" textLength="48" lengthAdjust="spacingAndGlyphs">Spike</text>
  </g>
  <g font-size="15" fill="#242424">
    <text x="287.5" y="81.2" textLength="183" lengthAdjust="spacingAndGlyphs">High conversion solar panel,</text>
    <text x="287.5" y="96" textLength="180.5" lengthAdjust="spacingAndGlyphs">transforms solar power into</text>
    <text x="287.5" y="110.4" textLength="153.5" lengthAdjust="spacingAndGlyphs">electric power to charge</text>
    <text x="287.5" y="125.2" textLength="170.5" lengthAdjust="spacingAndGlyphs">build-in battery efficiently.</text>
  </g>
  <g font-size="14.8" fill="#2e2e2e">
    <text x="582" y="310.8" textLength="154.5" lengthAdjust="spacingAndGlyphs">Angle adjustable design</text>
    <text x="582" y="328.3" textLength="153" lengthAdjust="spacingAndGlyphs">enables panel to absorb</text>
    <text x="582" y="347.4" textLength="167" lengthAdjust="spacingAndGlyphs">sunlight energy efficiently</text>
  </g>
  <g font-size="11" fill="#4c4c4c">
    <text x="20" y="517.2" textLength="57.5" lengthAdjust="spacingAndGlyphs">4.7in\12cm</text>
    <text x="20" y="702.2" textLength="57.5" lengthAdjust="spacingAndGlyphs">4.7in\12cm</text>
  </g>
  <text x="390" y="589" font-size="14.8" fill="#424242" textLength="89.5" lengthAdjust="spacingAndGlyphs">11.02in\28cm</text>
  <text x="440.5" y="509.8" font-size="20.8" fill="#2a2a2a" textLength="33" lengthAdjust="spacingAndGlyphs">90°</text>
</g>
</svg>
</body>
</html>
